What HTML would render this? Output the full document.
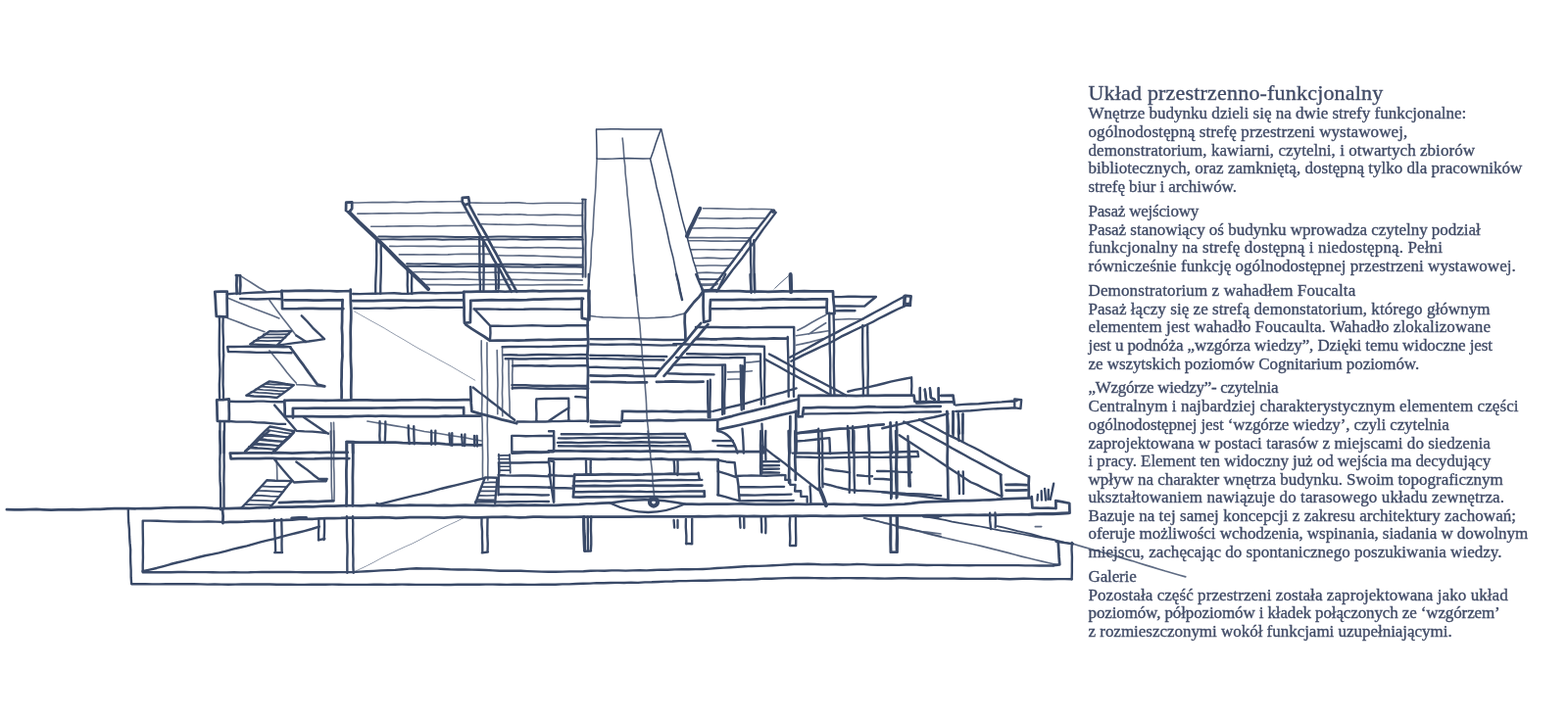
<!DOCTYPE html>
<html lang="pl">
<head>
<meta charset="utf-8">
<title>Układ przestrzenno-funkcjonalny</title>
<style>
html,body{margin:0;padding:0;background:#fff}
body{width:1600px;height:733px;position:relative;overflow:hidden;font-family:"Liberation Serif",serif;color:#404b66}
.l{position:absolute;left:1110.5px;white-space:nowrap;-webkit-text-stroke:0.35px;line-height:20px;height:20px;font-size:17.0px;margin:0}
.h{font-size:22.0px;line-height:26px;height:26px}
.tx{position:absolute;left:0;top:0;width:1600px;height:733px;will-change:transform}
svg{position:absolute;left:0;top:0}
svg g{fill:none;stroke:#3a4a68;stroke-linecap:round;stroke-linejoin:round}
.k{stroke-width:11}
.m{stroke-width:9.5}
.t{stroke-width:6.5;stroke-opacity:.82}
.f{stroke-width:4;stroke-opacity:.55}
.b{stroke-width:16}
.d{stroke-width:7}
.e{stroke-width:8}
.x{stroke-width:17}
</style>
</head>
<body>
<svg width="1600" height="733" viewBox="0 0 1600 733">
<g transform="translate(200,120) scale(.25)">
<g class="k">
<path d="M612.8,346.8 636.8,345.5 636.7,371.3 624.2,387.2 612.1,379.8 612.8,346.8"/>
<path d="M1087.1,327.2 1112.1,325.7 1116.1,349.0 1097.1,357.8 1087.0,345.2 1087.1,327.2"/>
<path d="M1090.5,351.3 1104.1,377.2 1118.2,402.9 1132.8,428.3 1146.3,454.3 1159.6,480.4 1174.7,505.5 1189.8,530.6 1203.3,556.7 1217.1,582.5 1232.2,607.6 1246.5,633.2 1259.6,659.4 1273.4,685.3 1287.6,710.9M1112.9,352.7 1126.9,378.3 1140.6,404.1 1154.5,429.7 1169.7,454.6 1184.3,479.9 1197.4,506.1 1211.0,531.9 1225.6,557.2 1239.2,583.0 1252.0,609.3 1266.2,634.8 1281.2,659.8 1295.3,685.4 1309.2,711.0"/>
<path d="M166.5,648.8 165.4,684.1 166.7,719.4M180.0,651.1 181.4,685.2 178.9,719.2M163.6,644.9 180.5,645.0"/>
</g>
<g class="e">
<path d="M1578.2,336.0 1578.0,364.6 1577.2,393.2 1577.8,421.8 1578.3,450.4 1577.7,479.0 1578.5,507.6 1579.7,536.2 1579.0,564.8 1578.9,593.4 1579.3,622.0 1578.7,650.7M1589.6,338.3 1589.2,366.7 1589.6,395.1 1589.0,423.6 1588.7,452.0 1590.1,480.5 1590.5,508.9 1589.7,537.3 1590.2,565.8 1590.8,594.2 1589.9,622.6 1589.8,651.1M1576.1,334.4 1591.2,334.5"/>
<path d="M745.1,486.0 773.8,486.3 802.4,486.6 831.1,486.8 859.8,486.5 888.5,485.9 917.2,485.8 945.8,485.9 974.5,485.8 1003.2,485.8 1031.9,486.7 1060.6,487.6 1089.2,487.7 1117.9,487.5 1146.6,487.5 1175.3,487.5 1204.0,486.7 1232.7,486.0 1261.3,486.1 1290.0,486.7 1318.7,486.9 1347.4,487.1 1376.0,487.8 1404.7,488.4 1433.4,488.3 1462.1,487.8 1490.8,487.7 1519.4,487.7 1548.1,487.5 1576.8,487.8M747.8,497.7 776.4,497.5 805.1,497.1 833.8,498.0 862.4,497.9 891.1,497.9 919.8,498.4 948.4,496.8 977.1,496.9 1005.8,498.6 1034.4,497.9 1063.1,498.0 1091.8,498.1 1120.4,496.3 1149.1,497.5 1177.8,498.9 1206.4,497.7 1235.1,498.0 1263.8,497.6 1292.4,496.5 1321.1,498.3 1349.8,498.8 1378.4,497.5 1407.1,497.9 1435.8,497.4 1464.4,497.1 1493.1,498.5 1521.8,498.1 1550.4,497.6 1579.1,497.8"/>
<path d="M860.4,597.0 889.1,597.5 917.8,597.5 946.5,596.8 975.2,597.0 1003.8,598.6 1032.5,599.2 1061.2,598.7 1089.9,598.4 1118.5,597.8 1147.2,597.8 1175.9,599.7 1204.6,600.9 1233.3,599.8 1261.9,599.1 1290.6,599.1 1319.3,599.3 1348.0,600.7 1376.6,601.9 1405.3,601.0 1434.0,600.0 1462.7,600.5 1491.4,601.0 1520.0,601.6 1548.7,602.1 1577.4,601.8M861.3,607.1 890.0,607.0 918.7,607.0 947.4,607.8 976.1,608.4 1004.8,608.2 1033.5,608.2 1062.2,608.9 1090.9,608.6 1119.6,607.6 1148.4,607.7 1177.1,608.4 1205.8,608.1 1234.5,607.9 1263.2,609.1 1291.9,610.1 1320.6,609.8 1349.3,609.7 1378.0,610.5 1406.7,610.5 1435.4,609.6 1464.1,609.5 1492.8,610.1 1521.5,610.0 1550.2,610.0 1578.9,610.6"/>
</g>
<g class="b">
<path d="M625.8,387.7 645.7,407.5 665.5,427.3 685.8,446.7 706.5,465.7 726.9,484.9 747.2,504.3 767.5,523.6 787.4,543.4 806.8,563.7 826.4,583.8 846.7,603.2 867.2,622.4 887.5,641.7 908.0,660.9 928.3,680.3 948.0,700.2"/>
</g>
<g class="m">
<path d="M737.4,496.8 736.6,528.6 737.1,560.4 736.6,592.2 735.5,624.0 733.7,655.8 732.8,687.6 732.9,719.4M755.4,510.3 754.7,540.1 755.5,569.9 755.2,599.7 755.1,629.5 754.2,659.3 753.0,689.1 753.0,718.9"/>
<path d="M862.5,615.8 863.6,650.4 862.9,685.0 865.0,719.5M881.8,633.8 880.6,662.6 880.2,691.3 881.1,720.0"/>
<path d="M1156.3,492.2 1157.4,522.7 1157.0,553.3 1157.9,583.9 1157.8,614.4 1157.7,645.0 1159.6,675.6 1159.7,706.1M1172.8,500.1 1172.7,529.2 1173.9,558.4 1173.4,587.5 1174.8,616.7 1174.0,645.8 1173.9,675.0 1173.7,704.2"/>
<path d="M1222.4,605.9 1222.5,637.5 1224.4,669.1 1224.6,700.8M1235.1,605.2 1234.7,636.5 1236.2,667.8 1234.9,699.1"/>
</g>
<g class="t">
<path d="M635.0,348.0 663.3,348.2 691.5,347.1 719.8,346.0 748.0,346.4 776.3,346.5 804.5,345.7 832.7,346.0 861.0,346.3 889.2,344.5 917.5,343.1 945.7,343.8 974.0,344.2 1002.2,343.4 1030.5,343.2 1058.7,343.1 1086.9,342.3M1116.2,348.0 1145.1,348.4 1174.0,348.9 1202.9,349.0 1231.9,349.1 1260.8,348.5 1289.7,347.2 1318.7,347.5 1347.6,349.9 1376.5,351.1 1405.4,350.1 1434.3,349.1 1463.3,349.0 1492.2,349.0 1521.1,349.2 1550.0,350.2 1579.0,350.1"/>
<path d="M659.3,392.7 688.7,392.5 718.1,391.9 747.5,391.5 777.0,391.3 806.4,390.8 835.8,390.7 865.2,391.1 894.7,391.2 924.1,390.3 953.5,389.0 982.9,388.6 1012.4,388.9 1041.8,389.0 1071.2,388.6 1100.6,388.1M1150.5,395.4 1179.0,396.1 1207.5,396.2 1236.0,397.3 1264.5,395.1 1293.0,395.9 1321.5,394.9 1350.0,397.6 1378.6,397.8 1407.1,398.5 1435.6,397.3 1464.1,396.4 1492.6,397.1 1521.1,397.5 1549.6,399.0 1578.1,398.4"/>
<path d="M714.7,444.8 744.4,444.9 774.1,444.7 803.8,443.8 833.5,443.3 863.2,443.5 892.9,443.2 922.6,443.2 952.3,443.9 982.0,443.6 1011.7,442.5 1041.4,442.2 1071.0,442.1 1100.7,441.7 1130.4,441.8M1166.1,434.7 1195.5,436.0 1225.0,436.7 1254.4,436.8 1283.8,437.4 1313.3,437.8 1342.7,436.9 1372.2,436.6 1401.6,438.3 1431.0,439.7 1460.4,440.1 1489.9,441.1 1519.3,442.4 1548.7,442.5 1578.2,442.3"/>
<path d="M791.0,525.5 820.8,525.8 850.7,525.1 880.6,525.0 910.4,525.4 940.3,525.0 970.2,525.4 1000.1,526.4 1029.9,525.7 1059.8,524.8 1089.7,525.2 1119.5,525.2 1149.4,525.0 1179.3,525.3M1215.7,529.4 1245.9,530.2 1276.1,531.3 1306.3,530.5 1336.5,531.4 1366.7,531.3 1396.9,530.1 1427.1,531.6 1457.3,531.3 1487.5,531.7 1517.7,533.5 1547.9,533.4 1578.1,533.8"/>
<path d="M829.5,559.5 858.0,558.8 886.4,559.3 914.9,559.8 943.3,559.6 971.8,559.6 1000.2,560.0 1028.6,559.5 1057.1,558.0 1085.5,557.4 1114.0,557.6 1142.4,557.4 1170.9,557.2 1199.3,557.7M1236.2,563.0 1264.7,563.9 1293.2,563.8 1321.7,563.6 1350.2,564.7 1378.7,564.0 1407.1,565.9 1435.6,566.6 1464.1,567.5 1492.6,569.6 1521.1,569.5 1549.6,570.7 1578.1,570.4"/>
<path d="M890.6,630.8 919.6,630.6 948.7,631.2 977.8,631.4 1006.8,632.4 1035.9,631.9 1065.0,630.5 1094.1,631.2 1123.1,632.1 1152.2,632.3 1181.3,633.0 1210.4,632.6 1239.4,632.6M1264.4,632.3 1292.9,632.9 1321.5,633.2 1350.1,633.8 1378.6,634.6 1407.2,635.0 1435.8,635.5 1464.3,636.5 1492.9,637.7 1521.5,638.4 1550.0,638.7 1578.6,639.2"/>
<path d="M920.3,659.6 948.8,660.3 977.4,660.5 1005.9,659.9 1034.5,660.1 1063.0,660.0 1091.6,659.6 1120.1,660.9 1148.7,662.0 1177.2,662.0 1205.8,662.8 1234.3,662.8 1262.9,661.3 1291.4,661.4 1320.0,661.9 1348.5,661.7 1377.1,663.0 1405.6,664.2 1434.2,663.9 1462.7,664.1 1491.2,664.2 1519.8,663.5 1548.4,663.7 1576.9,664.4M939.7,682.5 968.7,682.0 997.7,682.5 1026.8,682.7 1055.8,683.6 1084.8,683.4 1113.8,683.4 1142.8,682.5 1171.9,681.9 1200.9,681.4 1229.9,681.5 1258.9,682.2 1288.0,682.9 1317.0,683.9 1346.0,683.9 1375.0,683.9 1404.0,682.9 1433.1,682.6 1462.1,681.8 1491.1,682.3 1520.1,682.3 1549.1,683.0 1578.2,683.0"/>
<path d="M179.1,644.3 205.2,661.4 231.5,678.1 257.8,694.8 285.0,710.0"/>
</g>
</g>
<g transform="translate(560,120) scale(.25)">
<g class="d" style="stroke-width:6">
<path d="M193.9,47.5 223.3,47.5 252.7,47.1 282.1,46.9 311.5,47.7 340.9,48.2 370.3,47.7 399.7,47.8 429.1,48.0 458.4,47.6 446.7,77.1 436.1,107.0 426.6,137.3 415.7,167.1 384.3,168.1 352.9,167.1 321.5,166.3 290.1,167.4 258.7,168.5 227.3,168.7 196.0,168.4 195.9,138.2 195.4,107.9 194.6,77.7 193.9,47.5"/>
<path d="M459.0,48.0 465.4,76.6 472.0,105.2 478.8,133.7 485.5,162.3 492.6,190.8 499.9,219.2 506.2,247.8 512.3,276.5 518.9,305.1 525.4,333.7 531.8,362.3 538.9,390.8 545.7,419.4 553.5,446.9 561.3,474.4 568.1,502.2 575.0,530.0 582.9,557.5 589.8,585.2 599.0,612.4 606.4,640.0 614.8,667.3 622.2,695.0 629.1,722.7"/>
<path d="M413.9,168.7 420.8,196.9 427.2,225.1 434.0,253.3 439.3,281.9 446.4,310.0 453.4,338.1 460.2,366.3 467.2,394.4 472.8,422.9 479.7,451.0 486.0,481.1 492.2,511.3 499.5,541.2 507.4,570.9 513.4,601.1 519.4,631.3 525.3,661.5 533.0,691.3 539.6,721.3"/>
</g>
<g class="m">
<path d="M822.4,497.1 823.2,528.4 824.2,559.7 824.2,591.0 825.8,622.2 825.3,653.5 825.3,684.8 826.2,716.0M837.0,501.0 838.3,531.5 838.1,561.9 837.6,592.4 838.0,622.9 838.4,653.3 839.0,683.8 840.3,714.2"/>
<path d="M909.1,380.5 891.6,403.9 873.5,426.8 855.4,449.7 837.6,472.8 819.7,495.8 801.6,518.7 784.1,542.0 767.0,565.7 749.5,589.0 731.5,611.9 713.6,635.0 695.7,658.1 677.7,681.0 659.9,704.1M926.8,387.5 909.4,410.4 892.2,433.5 874.8,456.4 858.4,480.1 841.9,503.7 824.2,526.4 806.8,549.3 790.0,572.7 772.2,595.3 753.9,617.6 736.8,640.8 719.9,664.1 702.4,687.0 685.7,710.4"/>
</g>
<g class="t">
<path d="M196.5,167.5 195.0,195.8 193.6,224.1 192.4,252.4 191.5,280.8 189.7,309.1 187.2,337.3 185.2,365.6 183.6,393.9 181.9,422.2 181.0,450.5 178.8,480.4 174.9,510.2 173.2,540.2 172.9,570.3 171.2,600.2 168.0,630.1 165.3,659.9 163.3,689.9"/>
<path d="M300.7,84.3 303.9,113.0 305.8,141.8 307.9,170.5 311.5,199.2 312.5,228.1 315.8,256.7 319.0,285.4 320.4,314.2 324.3,342.8 326.7,371.6 329.1,400.3 332.5,430.2 335.5,460.0 337.6,490.0 339.9,519.9 341.7,549.8 343.9,579.8 347.0,609.6 349.8,639.5 353.4,669.3 356.5,699.1 358.8,729.0"/>
<path d="M630.4,371.0 658.5,370.9 686.7,371.6 714.8,372.2 743.0,373.0 771.1,374.1 799.2,374.1 827.4,373.6 855.6,373.9 883.7,374.2 911.9,375.0"/>
<path d="M612.1,410.8 641.8,411.0 671.6,411.8 701.3,412.4 731.0,411.6 760.8,411.9 790.5,411.6 820.3,410.5 850.0,410.8 879.8,411.1M586.1,451.9 616.1,451.6 646.0,451.2 676.0,450.8 706.0,451.9 735.9,452.5 765.9,452.8 795.8,452.2 825.8,451.3 855.8,451.7M568.1,490.4 596.9,490.6 625.7,490.7 654.6,490.8 683.4,490.7 712.2,490.3 741.0,490.5 769.8,491.2 798.6,491.7 827.4,491.4M568.8,503.2 599.6,503.1 630.3,503.0 661.1,504.4 691.8,504.5 722.6,505.0 753.3,504.7 784.1,504.1 814.8,504.6M581.0,539.7 610.7,539.1 640.4,539.0 670.1,539.7 699.8,539.8 729.4,539.7 759.1,540.7 788.8,540.6M589.1,573.9 617.8,573.8 646.5,572.6 675.2,573.3 703.8,575.7 732.5,574.8 761.2,574.2M597.8,605.1 626.1,605.1 654.4,603.9 682.8,603.8 711.1,605.0 739.4,604.6M607.4,634.6 644.5,632.6 681.6,634.3 718.7,634.6M615.0,660.9 643.3,661.5 671.6,660.9 699.9,661.1M621.6,685.8 652.3,684.9 683.1,684.0"/>
</g>
<g class="f">
<path d="M983.4,642.4 961.5,661.1 939.8,680.1 919.1,700.2"/>
</g>
<g class="b">
<path d="M617.3,370.9 603.3,399.1 590.1,427.6 576.0,455.7 563.6,484.6"/>
<path d="M986.2,641.4 987.6,677.0 988.8,712.6"/>
<path d="M918.0,381.1 915.3,383.6"/>
</g>
</g>
<g transform="translate(200,280) scale(.25)">
<g class="k">
<path d="M77.0,71.1 102.1,70.8 127.1,70.5 126.5,105.3 127.2,140.1 127.6,174.8 83.1,171.6 80.9,138.1 79.4,104.6 77.0,71.1"/>
<path d="M349.4,68.0 377.6,68.7 405.7,67.5 433.8,67.7 462.0,66.9 490.1,67.1 518.2,67.9 546.4,68.0 574.5,69.5 602.6,69.0 630.7,68.9M349.4,67.0 351.7,103.8 352.2,140.6 383.3,141.0 414.5,140.8 445.6,139.9 476.7,139.8 507.8,140.4 538.9,140.5 570.1,140.4 601.2,140.5M362.2,105.1 391.6,105.3 421.0,105.1 450.4,105.6 479.7,106.4 509.1,106.1 538.5,105.4 567.9,105.3 597.3,105.5"/>
<path d="M598.0,104.9 597.3,133.6 596.5,162.2 596.6,190.9 595.3,219.5 597.2,248.2 597.4,276.8 596.8,305.4 597.8,334.1 595.3,362.7 594.6,391.4 594.4,420.0 593.3,448.6 594.5,477.3 594.2,506.0M631.0,62.6 630.9,92.1 631.7,121.6 633.0,151.1 632.9,180.7 631.3,210.2 630.7,239.8 631.4,269.3 631.6,298.8 631.2,328.4 632.0,357.9 633.8,387.4 634.3,416.9 633.4,446.5 632.8,476.0 633.2,505.6"/>
<path d="M640.1,108.3 668.1,108.4 696.2,108.4 724.2,108.1 752.3,107.2 780.3,106.9 808.4,106.8 836.4,106.7 864.5,107.4 892.5,107.5 920.6,107.2 948.6,107.0 976.6,106.0 1004.7,105.6 1032.7,105.6 1060.8,105.5 1088.8,105.6"/>
<path d="M1092.9,71.3 1121.1,71.4 1149.3,70.3 1177.5,70.5 1205.7,70.3 1233.9,69.9 1262.1,71.0 1290.3,69.6 1318.5,69.5 1346.7,69.2 1374.9,67.9 1403.1,69.3 1431.3,68.7 1459.5,68.6 1487.7,68.8 1515.9,67.2 1544.1,67.6 1572.3,67.3 1600.5,67.2M1092.9,71.0 1093.3,103.0 1094.3,135.0 1094.3,167.0 1095.7,199.0 1119.7,196.2 1119.9,166.5 1121.0,136.8 1120.9,107.1 1149.6,106.3 1178.3,105.6 1207.0,104.9 1235.7,105.7 1264.4,105.5 1293.1,104.8 1321.9,105.4 1350.6,104.5 1379.2,102.7 1407.9,102.6 1436.6,101.6 1465.3,100.2 1494.0,100.6 1522.8,100.5 1551.5,99.9 1580.2,99.8"/>
<path d="M1100.9,205.5 1125.4,222.5 1150.6,238.3 1175.9,254.0 1200.4,271.0 1228.9,270.9 1257.4,270.3 1286.0,270.0 1314.5,270.2 1343.0,269.7 1371.5,268.4 1400.0,267.8 1428.5,268.0 1457.0,267.5 1485.5,266.6 1514.0,266.6 1542.6,266.9 1571.1,266.5 1599.6,265.9"/>
<path d="M361.0,515.2 389.0,514.7 417.1,514.6 445.2,514.8 473.3,514.8 501.4,515.0 529.4,515.5 557.5,515.0 585.6,514.3 613.7,514.2 641.7,513.6 669.8,513.2 697.9,513.8 726.0,514.3 754.0,514.3 782.1,514.6 810.2,514.5 838.3,513.6 866.3,513.1 894.4,513.0 922.5,512.7 950.6,512.8 978.6,513.5 1006.7,513.6 1034.8,513.3 1062.9,513.3 1091.0,512.9 1119.0,512.8M361.0,514.6 362.5,547.7 362.5,580.8 391.0,580.4 419.4,580.4 447.9,580.8 476.4,580.9 504.9,581.7 533.4,581.1 561.9,581.9 590.3,580.4 618.8,581.2 647.3,579.1 675.8,579.9 704.3,578.0 732.8,579.1 761.3,578.0 789.7,579.4 818.2,579.1 846.7,580.2 875.2,580.4 903.7,580.6 932.2,580.8 960.7,580.1 989.1,580.2 1017.6,578.9 1046.1,579.2 1074.6,578.1 1103.1,578.7 1131.6,578.2 1160.1,578.8M395.9,586.2 395.5,547.3 424.6,547.0 453.6,547.0 482.7,546.5 511.7,546.0 540.7,546.3 569.8,546.1 598.8,546.0 627.9,546.8 656.9,546.7 686.0,546.3 715.0,546.7 744.0,546.0 773.1,545.1 802.1,545.2 831.2,544.6 860.2,544.1 889.3,544.7 918.3,544.7 947.3,544.5 976.4,545.1 1005.4,544.9 1034.5,544.5 1063.5,544.4 1092.6,544.0 1092.9,571.0"/>
<path d="M1120.6,460.8 1121.9,493.7 1123.0,526.6 1125.8,559.5 1156.1,568.6 1186.8,576.3 1217.3,584.5 1247.7,593.4 1278.4,600.7 1308.9,609.0"/>
<path d="M84.7,513.0 109.9,512.8 134.9,509.4 134.6,539.9 135.5,570.3 134.9,600.8 87.3,599.1 86.3,570.4 85.9,541.7 84.7,513.0"/>
<path d="M384.1,297.7 403.1,322.9 421.4,348.6 440.5,373.7 458.5,399.6 477.1,425.0 495.5,450.7 525.3,457.4"/>
<path d="M614.5,684.6 643.1,685.4 671.6,686.7 700.2,686.7 728.8,686.5 757.4,686.7 785.9,686.2 814.5,686.5 843.1,688.3 871.6,689.4 900.2,689.2 929.6,690.1 958.9,690.2 988.2,690.9 1017.5,693.4 1046.8,695.1 1076.2,695.4 1105.5,696.2 1134.8,697.3 1164.2,697.8M615.4,685.9 615.0,729.2M639.5,689.3 640.8,730.6"/>
</g>
<g class="m">
<path d="M1289.5,452.5 1317.7,453.1 1345.8,453.0 1373.9,455.0 1402.1,454.6 1430.2,455.8 1458.4,455.5 1486.5,455.1 1514.7,455.5 1542.8,454.4 1571.0,455.4 1599.1,455.9M1290.7,465.1 1318.9,464.6 1347.1,464.3 1375.3,465.4 1403.5,466.8 1431.7,467.2 1459.9,466.9 1488.1,466.9 1516.3,466.8 1544.5,466.3 1572.7,466.1 1600.9,467.1"/>
<path d="M129.0,295.8 157.5,295.9 186.0,295.3 214.5,295.2 243.0,295.9 271.5,296.6 300.0,296.5 328.5,296.5 357.0,296.8 385.5,296.5M132.8,316.4 161.4,316.7 190.0,317.3 218.6,318.2 247.1,319.3 275.7,319.5 304.4,318.7 332.9,319.0 361.5,320.6 390.1,321.0M128.8,296.8 131.8,315.8"/>
<path d="M126.9,80.8 158.6,78.7 190.3,77.4 222.0,75.3 253.7,74.1 285.5,73.3 317.2,71.6 348.9,70.3M180.3,100.1 213.3,100.7 246.3,102.2 279.3,100.8 312.4,99.7 345.4,101.0"/>
<path d="M640.7,80.0 668.8,80.3 697.0,79.6 725.1,79.0 753.3,78.7 781.4,77.6 809.5,77.2 837.7,79.0 865.9,79.6 894.0,77.1 922.1,75.2 950.3,76.1 978.4,77.0 1006.6,76.4 1034.7,76.1 1062.9,75.8 1091.0,75.2M645.1,139.0 674.8,139.3 704.4,139.5 734.0,138.7 763.6,138.6 793.2,139.0 822.9,137.5 852.5,136.0 882.1,136.4 911.7,136.2 941.3,134.9 970.9,135.1 1000.6,136.2 1030.2,135.9 1059.8,135.5 1089.4,135.3"/>
<path d="M1134.5,142.2 1163.6,141.8 1192.6,141.9 1221.7,142.7 1250.8,143.4 1279.8,143.2 1308.9,143.3 1338.0,143.2 1367.0,142.2 1396.1,141.6 1425.2,142.0 1454.3,142.3 1483.3,142.5 1512.4,143.3 1541.5,143.6 1570.5,143.1M1135.1,140.9 1157.2,164.2 1179.2,187.5 1201.2,210.9 1229.7,211.2 1258.2,211.3 1286.7,211.6 1315.1,210.3 1343.6,209.3 1372.1,208.8 1400.6,209.3 1429.1,210.8 1457.6,210.9 1486.1,210.9 1514.6,209.2 1543.1,208.9 1571.6,208.5 1600.1,209.2M1200.8,211.2 1201.9,239.8 1199.9,268.4"/>
<path d="M1250.2,296.9 1279.3,295.9 1308.3,295.8 1337.4,295.4 1366.4,295.6 1395.5,295.9 1424.5,295.3 1453.6,295.2 1482.6,294.0 1511.7,293.2 1540.7,292.6 1569.8,292.0 1598.8,292.2M1255.4,329.4 1284.0,329.1 1312.7,330.1 1341.3,330.3 1370.0,329.0 1398.6,327.8 1427.2,328.1 1455.9,329.0 1484.5,329.6 1513.2,329.3 1541.8,328.5 1570.5,327.9 1599.1,328.4M1262.7,344.8 1290.9,344.9 1319.1,346.0 1347.3,345.9 1375.5,344.6 1403.7,345.0 1431.9,345.2 1460.1,343.4 1488.3,342.6 1516.5,343.6 1544.7,343.3 1572.9,342.9 1601.1,343.7M1292.0,373.8 1322.7,373.2 1353.5,372.6 1384.3,374.1 1415.0,373.0 1445.8,374.9 1476.5,373.9 1507.3,374.0 1538.0,373.8 1568.8,372.5 1599.6,372.8"/>
<path d="M1390.9,509.5 1423.4,508.1 1456.0,507.3 1488.6,506.7 1521.1,506.9M1389.3,509.7 1388.5,539.7 1389.9,569.7 1389.2,599.7M1521.1,509.2 1521.6,539.1 1520.5,569.1 1521.7,599.0M1310.1,601.8 1339.0,602.1 1368.0,602.7 1396.8,601.7 1425.7,602.1 1454.6,600.3 1483.5,600.6 1512.4,598.9 1541.3,599.6 1570.2,598.9 1599.1,599.7"/>
<path d="M95.3,174.8 96.1,205.3 95.5,235.9 95.1,266.4 95.0,297.0 94.9,327.5 96.2,358.0 97.8,388.6 97.0,419.1 95.3,449.7 95.6,480.2 96.5,510.8M110.6,180.2 109.8,210.2 110.4,240.3 112.0,270.3 111.5,300.4 113.1,330.4 111.0,360.5 110.5,390.6 110.6,420.6 110.1,450.7 112.0,480.7 111.7,510.8M98.1,599.4 97.8,632.1 97.8,664.8 99.4,697.4 99.9,730.1M116.1,604.8 116.0,635.9 114.2,667.0 113.7,698.2 114.2,729.3"/>
<path d="M134.4,518.9 162.7,519.8 191.1,519.4 219.4,520.0 247.8,518.5 276.1,518.4 304.5,520.7 332.8,520.8 361.1,521.0M135.6,599.9 164.2,602.3 192.9,602.7 221.6,602.7 250.1,605.3 278.8,605.8 307.3,608.5 335.9,611.3 364.5,611.7"/>
<path d="M431.0,169.3 454.4,193.0 476.3,218.1 500.5,241.1 524.1,264.6 491.9,269.6 459.7,273.9 427.4,277.4 395.2,281.7 363.0,286.3 330.8,290.8M409.3,250.1 449.4,276.1"/>
<path d="M220.9,285.5 247.4,267.9 274.4,251.2 300.2,232.6 329.8,233.3 359.4,232.5 389.0,231.7 359.8,261.0 330.9,290.7 294.2,289.2 257.5,287.6 220.9,285.5"/>
<path d="M205.2,494.9 236.8,476.0 267.5,455.7 299.5,437.5 332.8,442.0 365.8,448.1 399.2,452.3 376.9,470.6 353.7,487.5 330.0,504.0 298.9,500.6 267.6,498.9 236.3,497.9 205.2,494.9"/>
<path d="M320.5,534.5 343.1,560.4 365.4,586.8 387.8,612.9 409.9,639.4 442.4,641.6 475.1,642.7 507.6,645.7 540.1,649.3M439.9,584.0 464.7,601.0 489.6,617.7 514.4,634.6 539.5,651.1"/>
<path d="M200.7,722.2 221.2,702.7 240.7,682.0 260.4,661.7 280.7,641.9 300.9,622.0 334.3,627.6 367.6,634.3 400.9,641.0 378.4,663.8 355.1,685.8 332.5,708.7 309.0,730.4"/>
<path d="M750.0,600.9 750.4,630.1 749.3,659.4 751.2,688.7M773.2,602.0 773.4,630.9 772.2,659.8 771.1,688.6M866.9,617.3 867.5,655.1 870.9,692.7M889.0,620.5 889.6,656.7 890.8,692.9M960.8,639.2 961.1,667.3 960.9,695.4M977.4,639.1 976.7,666.9 977.1,694.7M1033.9,650.2 1037.5,697.2M1045.2,649.0 1044.9,698.8M1084.3,654.9 1088.0,699.4M1097.7,654.0 1096.5,700.7M1135.9,659.5 1136.8,701.6M1146.3,659.6 1147.8,702.2"/>
<path d="M1130.8,462.2 1154.8,481.5 1179.7,499.6 1203.7,518.9 1228.2,537.5 1252.2,556.9 1275.9,576.5 1300.4,595.1"/>
</g>
<g class="t">
<path d="M551.1,606.1 552.3,637.0 551.9,667.8 551.5,698.6 552.1,729.5M562.0,605.6 562.7,636.8 563.6,668.0 564.4,699.3 562.9,730.5"/>
<path d="M299.9,105.8 317.5,130.5 335.6,154.8 353.7,179.2 372.9,202.7 391.3,226.8 409.4,251.1"/>
<path d="M127.8,96.1 154.1,107.1 180.5,117.7 206.9,128.2 233.3,139.0 260.0,148.6 286.6,158.8 313.0,169.4 339.4,180.1M128.6,178.9 158.8,190.3 189.0,201.5 218.9,213.6 249.4,224.0 279.9,234.6"/>
<path d="M1164.8,270.8 1164.7,299.0 1164.7,327.1 1165.6,355.3 1166.6,383.5 1166.7,411.7 1166.4,439.9 1167.0,468.1 1167.7,496.3 1167.3,524.5 1166.5,552.7 1167.0,580.9 1168.5,609.0 1169.1,637.2 1168.9,665.4 1169.1,693.6 1170.0,721.8 1170.2,750.0 1169.8,778.2 1169.8,806.4 1170.6,834.6M1187.8,279.3 1187.8,307.3 1187.9,335.4 1187.7,363.4 1188.7,391.5 1189.4,419.5 1189.1,447.6 1189.9,475.6 1190.2,503.7 1189.1,531.7 1189.2,559.8 1189.6,587.8 1188.8,615.9 1189.4,643.9 1190.6,672.0 1190.5,700.0 1191.0,728.1 1191.8,756.1 1191.3,784.2 1191.2,812.2 1191.4,840.3M1228.7,310.7 1229.5,339.6 1230.0,368.4 1230.1,397.3 1231.3,426.1 1231.8,455.0 1230.7,483.9 1230.5,512.7 1231.0,541.6 1231.0,570.5M1250.2,300.4 1250.5,331.4 1251.7,362.3 1250.4,393.3 1251.4,424.3 1250.8,455.3 1249.7,486.2 1251.0,517.2 1250.3,548.2 1251.2,579.2M1276.2,348.9 1276.6,377.7 1276.5,406.5 1277.1,435.2 1277.9,464.0 1278.5,492.8 1280.1,521.6 1280.3,550.3 1280.8,579.1M1292.2,344.6 1292.6,375.9 1291.0,407.1 1291.3,438.3 1291.0,469.5"/>
<path d="M299.8,311.8 318.1,333.7 336.4,355.7 353.7,378.4 371.2,401.1 389.8,422.7 408.9,444.1M410.4,450.4 438.9,451.4 467.3,454.7 495.8,457.4 524.3,458.6"/>
<path d="M699.5,600.2 728.7,604.9 757.9,609.3 787.0,614.5 816.1,619.5 845.3,624.0 874.3,629.6 903.1,636.2 932.1,641.9 961.4,645.9 990.6,650.0 1019.7,655.1 1048.9,659.8 1078.1,663.9 1107.3,668.8 1136.2,674.7 1165.3,679.9"/>
</g>
<g class="f">
<path d="M646.2,151.6 670.9,165.4 695.6,179.4 720.3,193.3 745.3,206.9 770.0,220.9 794.2,235.7 818.6,250.2 843.3,264.2 867.6,278.8 891.9,293.5 916.6,307.4 941.7,320.7 966.5,334.6 991.1,348.6 1016.2,362.0 1041.1,375.6 1065.6,390.0 1090.0,404.4 1114.6,418.5 1139.1,432.9"/>
</g>
<g class="d">
<path d="M236.1,272.1 264.3,271.9 292.6,272.3 320.8,271.5 349.0,271.9M254.0,258.4 282.0,258.3 310.0,258.8 338.0,257.9 366.0,258.2M274.8,245.9 309.5,245.6 344.2,245.3 379.0,244.9"/>
<path d="M224.9,480.9 254.7,483.9 284.7,484.9 314.6,487.4 344.6,488.9M244.0,469.4 274.4,472.0 304.9,473.5 335.3,476.5 365.8,478.2M265.0,458.4 294.0,460.2 322.9,462.9 351.8,464.5 380.8,464.9M284.3,447.7 321.1,450.5 358.1,450.7 394.9,454.1"/>
<path d="M215.8,703.9 252.2,708.6 288.9,711.3 325.5,714.6M235.8,690.6 271.0,692.9 306.1,696.5 341.1,700.6M254.2,669.9 289.4,675.4 324.7,679.1 360.1,682.6M274.7,653.1 307.9,655.7 340.9,660.9 373.9,665.6M289.0,635.3 322.5,641.0 356.0,646.6 389.7,651.2"/>
</g>
</g>
<g transform="translate(560,280) scale(.25)">
<g class="k">
<path d="M1006.8,649.7 1036.8,646.4 1066.9,644.4 1097.0,641.5 1126.9,637.5 1156.9,633.8 1186.8,630.5 1217.0,629.1 1247.1,626.5 1277.1,623.0 1307.0,619.2 1337.0,615.8 1367.1,613.5"/>
<path d="M165.6,67.2 165.1,96.7 165.9,126.3 165.9,155.9 165.3,185.4 135.3,179.2 134.6,139.3 134.9,99.4"/>
<path d="M630.7,69.2 660.1,68.7 689.5,68.4 718.9,69.0 748.3,68.6 777.7,68.8 807.1,70.4 836.5,70.2 865.9,70.0 895.3,71.2 924.7,70.4 954.1,69.4 983.5,70.0 1013.0,69.2 1042.4,68.4 1071.8,69.3 1101.2,69.4 1130.6,69.4 1160.0,69.9 1161.2,100.1 1164.4,130.3 1166.1,160.5 1135.0,159.8 1134.6,130.4 1135.5,101.1 1105.8,101.5 1076.1,101.9 1046.4,102.6 1016.6,101.6 986.9,102.1 957.2,101.9 927.5,102.1 897.8,103.9 868.0,103.4 838.3,104.3 808.6,103.8 778.9,103.2 749.2,104.1 719.4,104.0 689.7,104.9 660.0,104.9 658.2,132.9 658.4,160.9 658.0,188.9 632.8,195.5 631.2,164.0 630.3,132.4 630.5,100.8 630.7,69.2"/>
<path d="M631.2,68.5 613.1,92.3 592.4,114.0 573.8,137.5 555.4,161.0 554.7,197.7 557.2,234.2 558.0,270.8"/>
<path d="M621.1,199.4 602.3,220.8 584.2,242.7 566.4,265.0 547.3,286.1 528.1,307.2 510.2,329.3 491.3,350.6 471.6,371.2 453.2,392.9 435.0,414.8M649.9,204.5 629.9,228.0 610.4,251.8 589.2,274.2 569.9,298.2 548.9,320.8 530.2,345.4 509.6,368.3 490.6,392.5 469.9,415.4"/>
<path d="M159.0,186.2 158.2,215.8 159.3,245.4 160.7,275.1 159.1,304.7 157.0,334.4 158.2,364.0 160.2,393.6 159.8,423.3 158.9,452.9 158.6,482.6 158.2,512.2 158.6,541.9 159.6,571.5 158.9,601.1"/>
<path d="M169.5,413.9 199.0,414.4 228.5,415.2 258.0,414.6 287.6,413.2 317.1,413.9 346.6,415.7 376.1,416.1 405.7,415.3 435.2,415.5M174.0,439.9 202.3,439.1 230.6,439.5 258.8,440.0 287.1,440.1 315.4,441.4 343.6,442.0 371.9,441.7 400.2,441.4M439.6,439.0 471.4,438.9 503.1,437.7 534.9,438.7 566.7,439.1 598.5,439.4 630.3,438.9"/>
<path d="M600.7,264.5 629.5,263.9 658.3,265.0 687.1,265.0 715.9,263.7 744.8,263.3 773.6,261.8 802.4,263.8 831.2,264.0 860.0,263.8 888.8,263.1 917.6,261.5 946.4,262.3 975.2,262.3"/>
<path d="M1020.2,495.9 1049.5,495.4 1078.9,495.7 1108.3,494.7 1137.7,495.5 1167.0,494.7 1196.4,495.9 1225.8,495.3 1255.2,496.2 1284.6,495.6 1313.9,495.8 1343.3,495.1 1372.7,494.9 1402.1,494.5 1431.4,494.2 1460.8,494.4 1490.2,494.5 1493.9,518.8M1040.3,545.5 1069.7,545.2 1099.1,543.8 1128.5,543.8 1157.9,544.4 1187.3,544.2 1216.7,544.7 1246.1,544.5 1275.5,542.1 1304.9,540.8 1334.3,541.9 1363.7,542.3 1393.2,542.2 1422.6,542.7 1452.0,541.6 1481.4,539.5 1510.8,539.3 1540.2,540.1 1569.6,539.9 1599.0,539.4M1039.8,545.1 1035.4,580.9 1017.5,581.2 1019.7,539.3 1019.7,497.4"/>
<path d="M689.6,594.6 719.2,586.8 748.7,579.2 778.1,570.9 807.8,563.6 837.5,556.8 867.1,549.1 896.8,542.3 926.3,534.5 955.7,526.2 985.3,518.7 1014.9,511.1M689.1,635.6 718.3,628.7 747.6,622.5 776.8,615.9 806.0,608.9 835.3,602.3 864.5,595.5 893.5,588.0 922.6,580.4 951.8,573.6 981.0,567.1 1010.3,560.6M689.1,594.5 688.5,636.9"/>
<path d="M299.5,559.7 329.6,559.4 359.7,560.8 389.8,560.3 419.9,559.7 450.0,560.0 480.1,559.4 510.2,561.1 540.3,561.4 570.4,559.9 600.5,560.5 630.6,560.5 660.7,560.9M300.6,559.4 298.5,599.2M300.3,598.7 329.8,598.9 359.3,598.0 388.8,598.0 418.3,597.0 447.8,595.7 477.4,597.4 506.9,597.6 536.4,595.8 565.9,595.8 595.4,595.1 624.9,594.3 654.4,595.2 684.0,594.5M171.1,599.0 202.0,601.7 233.1,602.9 264.1,603.1 295.1,604.9"/>
<path d="M1009.0,559.2 1008.5,587.7 1009.0,616.2 1008.8,644.7 1010.0,673.1 1010.0,701.6 1009.3,730.1M985.4,580.1 985.4,609.9 985.1,639.6 984.0,669.4 984.0,699.1 984.9,728.9"/>
<path d="M987.6,-1.1 988.7,33.6 991.0,68.3"/>
</g>
<g class="m">
<path d="M899.7,325.8 926.1,339.5 952.2,353.8 978.2,368.2 1004.1,383.1 1029.9,397.9 1056.2,411.9 1082.7,425.5 1109.1,439.2 1135.5,453.0 1162.0,466.6 1188.1,480.8 1213.9,495.6M879.9,345.4 906.4,359.8 933.2,373.8 959.5,388.7 985.6,404.0 1012.5,417.7 1038.8,432.6 1065.4,446.9 1092.4,460.4 1118.7,475.3 1145.2,489.9"/>
<path d="M670.0,559.7 702.3,551.2 734.9,543.5 767.4,536.0 800.0,528.6 833.4,518.9 866.4,508.1 899.5,497.8 927.3,489.8 955.2,482.4 982.8,473.9 1010.4,465.5"/>
<path d="M648.5,436.0 648.8,465.6 648.9,495.1 649.1,524.7 650.5,554.3 650.9,583.9M709.0,374.2 709.3,402.5 709.3,430.7 709.2,458.9 708.7,487.1 708.2,515.4 708.5,543.6 708.9,571.8M782.5,371.5 783.8,401.9 783.7,432.3 784.3,462.7 784.4,493.1 785.5,523.5 787.0,553.9"/>
<path d="M171.0,605.3 200.9,604.7 230.8,603.9 260.7,603.3 290.6,604.3M171.2,620.8 200.9,621.1 230.6,619.8 260.3,619.4 290.0,619.0"/>
<path d="M0.0,599.3 26.7,581.0 53.7,563.3 80.9,545.9M108.9,500.1 134.6,501.5 160.1,504.3"/>
<path d="M664.6,141.0 693.6,141.0 722.7,140.9 751.8,140.6 780.8,140.9 809.9,139.9 838.9,139.3 868.0,138.8 897.0,137.2 926.1,137.0 955.1,136.4 984.2,135.6 1013.2,136.2 1042.3,135.8 1071.3,135.9 1100.4,136.0 1129.4,135.2"/>
<path d="M163.1,0.2 163.2,31.1 161.8,62.1 161.3,93.0 162.1,124.0 161.5,154.9 160.9,185.9M520.2,-0.8 529.1,34.1 535.5,69.6 544.3,104.6"/>
<path d="M600.8,0.5 614.4,33.5 630.0,65.6 660.3,64.0 690.7,64.3 705.4,31.8 721.0,-0.4"/>
<path d="M821.9,0.9 823.6,35.2 826.6,69.4M839.6,-0.3 840.7,35.1 841.1,70.5"/>
<path d="M1165.0,92.3 1193.4,92.3 1221.8,90.9 1250.2,91.1 1278.7,92.1 1307.1,91.9 1335.5,91.9 1312.3,110.9 1289.2,130.1 1258.4,130.7 1227.6,129.9 1196.7,129.9 1165.9,129.5M1166.1,149.3 1208.1,147.8 1250.0,149.0"/>
<path d="M1454.8,89.0 1429.9,101.8 1405.1,115.0 1380.6,128.7 1356.0,142.2 1331.2,155.2 1306.5,168.5 1282.0,182.1 1257.1,195.1 1231.9,207.4 1207.0,220.2 1182.3,233.5 1157.4,246.4 1132.4,259.2 1107.8,272.6 1083.4,286.5 1058.7,299.8 1033.9,312.9 1009.2,326.2 984.4,339.1M1474.4,119.0 1448.9,131.6 1422.9,143.0 1397.5,155.7 1372.1,168.4 1346.6,180.9 1321.8,194.8 1296.2,207.2 1269.8,217.8 1244.2,230.2 1218.7,242.6 1193.0,254.7 1168.3,268.8 1143.1,282.1 1117.0,293.2 1091.3,305.3 1065.7,317.6 1039.8,329.4 1014.7,342.6 989.2,355.2M1455.6,87.2 1478.7,89.2 1473.9,120.0 1453.4,118.3 1455.6,87.2"/>
<path d="M1145.0,159.2 1145.1,189.8 1145.6,220.3 1146.3,250.8 1146.6,281.3 1147.2,311.8 1148.5,342.3 1148.9,372.9 1148.6,403.4 1149.0,433.9 1149.7,464.4 1150.2,494.9M1162.2,164.6 1163.3,194.7 1164.1,224.8 1163.9,254.9 1163.9,285.0 1164.2,315.1 1163.5,345.2 1163.1,375.3 1163.8,405.4 1164.3,435.5 1164.7,465.6 1165.9,495.7M1281.0,209.1 1280.9,237.8 1280.5,266.5 1280.7,295.2 1281.1,323.9 1281.1,352.6 1281.5,381.3 1282.6,410.0 1283.5,438.6 1283.7,467.3 1283.5,496.0M1301.1,211.3 1300.9,239.6 1301.5,267.9 1301.8,296.2 1302.0,324.5 1302.5,352.8 1303.1,381.1 1302.8,409.5 1302.2,437.8 1302.1,466.1 1302.3,494.4"/>
<path d="M169.1,264.3 198.8,265.0 228.4,265.2 258.0,264.9 287.7,264.3 317.3,264.3 347.0,265.0 376.6,265.7 406.3,266.3 435.9,267.2 465.5,267.9 495.2,267.9 524.8,267.5 554.5,267.6M169.4,285.9 198.6,286.7 227.8,287.7 257.1,287.2 286.3,286.4 315.5,286.7 344.7,285.9 373.9,287.8 403.1,288.7 432.4,289.4 461.6,290.4 490.8,289.6 520.0,289.7M168.9,330.9 197.2,331.4 225.6,331.8 254.0,331.4 282.4,331.6 310.7,333.0 339.1,333.3 367.4,335.2 395.8,335.1 424.2,335.3 452.6,335.4 481.0,335.8M170.0,344.3 200.0,344.6 230.0,344.5 260.0,345.6 290.0,346.6 320.0,346.5 350.0,347.2 380.0,348.9 410.0,349.6 440.1,349.5 470.1,350.0M165.5,379.4 194.1,379.1 222.6,380.6 251.1,381.5 279.6,381.4 308.2,383.0 336.7,382.2 365.3,382.0 393.8,383.5 422.3,383.5 450.8,384.5"/>
<path d="M599.7,216.0 628.4,215.9 657.1,215.8 685.7,216.0 714.4,217.1 743.0,216.7 771.7,217.1 800.3,217.5 829.0,216.4 857.6,216.6 886.3,216.1 914.9,215.3 943.6,215.8 972.2,215.6 1000.9,216.2 1000.8,244.5 1001.7,272.9 1001.8,301.2 1000.7,329.6 1000.3,357.9 1000.8,386.3 1000.5,414.6 999.4,443.0 999.4,471.4 1000.1,499.7M975.0,256.1 975.4,286.5 976.5,317.0 977.2,347.4 978.1,377.8 978.6,408.2 978.4,438.7 978.4,469.1 979.0,499.6M509.0,284.4 537.5,285.2 566.1,285.9 594.6,287.4 623.1,288.0 651.6,288.4 680.1,289.3 708.7,289.2 737.2,290.5 765.7,291.4 794.3,292.4 822.8,293.8 851.3,294.1 879.8,294.8 880.3,324.3 880.8,353.7 881.4,383.2 880.8,412.6 880.0,442.1 880.3,471.6 880.7,501.0 881.2,530.5M564.0,325.2 594.0,325.1 624.1,325.9 654.1,326.5 684.2,326.7 714.2,327.1 744.3,327.0 774.3,326.1 804.4,325.8 834.4,325.7 864.4,326.1 864.2,355.4 864.2,384.6 864.5,413.9 866.1,443.1 867.8,472.4 867.5,501.7 867.0,530.9M520.4,339.4 551.5,340.3 582.5,339.7 613.5,339.3 644.6,338.7 675.6,339.3 706.6,341.4 737.6,341.2 768.7,339.4 799.7,340.3 799.7,370.2 798.2,400.2 797.7,430.1 796.8,460.1 795.5,490.0 795.8,520.0 795.6,550.0M510.2,370.3 540.2,370.0 570.2,369.2 600.1,369.6 630.1,370.7 660.1,370.7 690.0,370.4 720.0,370.1 720.4,398.5 719.3,427.0 718.6,455.4 717.1,483.8 716.6,512.3 717.1,540.7 716.8,569.2M488.8,405.5 519.7,406.0 550.6,407.9 581.5,407.7 612.4,408.4 643.3,409.0 674.2,409.4M659.1,430.7 659.2,461.6 658.6,492.4 657.6,523.2 657.4,554.1 658.0,584.9M790.5,373.9 791.5,403.2 792.6,432.5 792.7,461.8 792.1,491.1 793.3,520.4 794.9,549.6"/>
<path d="M1040.9,570.3 1070.3,569.5 1099.7,569.5 1129.1,569.5 1158.5,568.6 1187.9,567.8 1217.3,568.0 1246.7,567.5 1276.0,565.9 1305.4,565.1 1334.9,565.3 1364.2,564.7 1393.6,563.4 1423.0,563.4 1452.5,563.9 1481.9,563.2 1511.2,562.3 1540.7,562.2 1570.1,561.9 1599.4,560.9"/>
<path d="M1221.0,478.9 1250.8,471.7 1281.0,466.7 1310.8,459.3 1339.1,453.1 1367.1,445.9 1395.2,438.6 1423.6,432.7 1452.0,427.1 1480.4,421.2 1481.4,456.0 1480.0,490.8"/>
<path d="M789.9,630.9 792.6,664.0 794.2,697.2 795.5,730.5M869.7,610.6 870.9,640.6 872.6,670.6 874.1,700.6 875.6,730.6M1100.8,630.8 1100.9,663.8 1101.6,696.8 1099.7,729.8M1219.7,619.6 1220.1,653.2 1222.5,686.8 1224.2,720.3M1240.6,620.5 1240.8,653.9 1240.2,687.3 1240.9,720.7M1304.3,616.0 1305.3,651.0 1308.2,686.0 1308.5,721.1M1394.9,606.0 1396.2,637.1 1397.1,668.2 1399.1,699.2 1401.0,730.3M1418.8,606.0 1421.0,636.7 1420.4,667.5 1421.2,698.3 1422.2,729.1"/>
<path d="M690,640 Q750,650 770,730"/>
<path d="M669.6,680.1 710.3,680.4 751.0,680.1M689.3,699.3 724.1,701.2 759.0,700.8"/>
<path d="M1515.6,464.2 1514.6,514.0M1535.1,470.1 1540.3,512.8M1555.8,464.6 1559.8,504.2 1575.2,511.7M1590.5,464.5 1590.7,490.0 1591.7,515.4M1499.9,519.8 1532.9,519.4 1565.9,519.8 1599.0,520.4"/>
</g>
<g class="t">
<path d="M164.6,169.3 192.7,172.9 220.9,175.5 250.8,176.0 280.8,177.3 310.7,178.2 340.7,178.2 370.6,178.6 400.6,178.8 433.9,177.6 467.2,175.5 500.6,174.1 527.3,166.6 554.2,159.9"/>
<path d="M1131.0,166.1 1101.6,180.8 1072.9,196.8 1044.7,213.8 1015.6,229.1M1130.8,198.9 1095.3,221.0 1060.7,244.5M1164.8,185.3 1194.8,183.9 1224.8,182.6 1254.9,182.9 1284.9,182.7M1009.0,250.8 1041.9,246.1 1074.8,241.2 1107.7,236.4 1140.5,231.1M1010.0,289.3 1037.6,283.5 1065.1,277.4 1092.3,269.7 1119.6,262.9"/>
<path d="M729.2,399.3 762.6,398.4 796.1,398.0 829.5,394.8M730.2,429.0 760.7,428.0 791.1,428.2M799.6,361.0 829.3,358.5 859.1,355.3"/>
<path d="M349.4,0.4 352.0,30.3 354.6,60.2 358.2,90.0 361.4,119.8 364.3,149.6 368.2,179.4 371.8,209.2 373.9,239.1 376.0,269.1 379.6,298.8 381.1,327.6 383.3,356.4 386.6,385.0 389.7,413.7 392.1,442.4 394.2,471.1 396.5,499.9 398.2,528.7 399.1,557.5 400.7,586.3 403.7,615.0 407.0,643.6 409.7,672.3 412.0,701.0 413.9,729.8"/>
<path d="M610.8,19.5 640.1,19.3 669.5,20.0 698.8,20.1M620.7,40.7 655.2,39.8 689.8,39.6"/>
</g>
<g class="f">
<path d="M975.1,9.3 950.1,32.2 925.2,55.2"/>
</g>
</g>
<g transform="translate(800,260) scale(.25)">
<g class="k">
<path d="M541.0,605.5 571.0,604.7 601.0,602.8 631.0,602.3 661.0,601.6 691.1,601.1M641.0,575.9 690.2,574.7 695.2,610.1"/>
<path d="M664.7,640.5 667.4,670.2 669.5,699.9 669.4,729.7M690.6,640.3 690.3,670.1 689.7,699.8 689.7,729.6"/>
</g>
<g class="m">
<path d="M490.6,168.2 517.4,169.9 515.9,208.7 488.6,205.9 490.6,168.2"/>
<path d="M700.8,614.4 732.0,611.7 763.4,610.2 794.7,609.0 826.0,606.2 857.2,603.4 888.5,601.5 919.7,598.8 951.0,596.1M700.9,639.9 731.4,638.7 761.9,637.1 792.4,634.3 822.8,631.6 853.3,629.7 883.8,628.2 914.4,626.9 944.9,625.0M941.0,589.9 968.9,593.0 965.7,628.7 941.3,625.7 941.0,589.9"/>
<path d="M711.2,649.5 713.0,690.0 716.1,730.3M730.7,649.5 728.6,689.7 729.3,730.0"/>
<path d="M555.0,545.0 556.0,590.2M575.0,550.9 580.2,591.0M595.3,545.5 600.1,584.1 615.2,590.9M630.6,546.1 631.4,595.9"/>
</g>
</g>
<g transform="translate(200,440) scale(.25)">
<g class="k">
<path d="M139.2,90.8 167.4,90.9 195.6,90.0 223.8,89.3 252.1,89.7 280.3,89.9 308.5,89.2 336.7,88.9 364.9,89.8 393.2,90.4 421.4,89.4 449.6,88.1 477.8,87.9 506.0,88.2 534.2,87.7 562.5,87.0 590.7,87.1 618.9,87.3M139.5,91.3 142.6,113.1 171.0,112.6 199.4,112.5 227.8,112.7 256.2,112.1 284.5,111.3 312.9,111.9 341.3,113.1 369.7,113.2 398.1,112.7 426.4,113.2 454.8,114.0 483.2,113.5 511.6,112.3 540.0,111.9 568.3,112.2 596.7,112.0 625.1,112.1"/>
<path d="M614.9,44.2 615.1,73.3 615.5,102.3 614.8,131.4 613.6,160.4 613.7,189.5 614.2,218.6 615.1,247.6 614.3,276.7 614.0,305.8M641.0,50.6 641.0,78.9 641.0,107.2 640.9,135.5 640.1,163.8 639.5,192.1 639.9,220.3 640.0,248.6 639.8,276.9 639.8,305.2M614.7,44.7 644.1,44.5"/>
<path d="M339.3,292.8 370.8,291.6 402.4,289.9 434.0,289.7 465.5,287.9 497.2,288.1 528.7,286.8 560.3,285.7"/>
<path d="M390.4,355.2 420.3,353.5 450.3,353.9"/>
<path d="M1290.0,90.9 1319.8,89.3 1349.6,88.0 1379.5,87.8 1409.4,88.0 1439.2,86.0"/>
</g>
<g class="m">
<path d="M1140.3,289.4 1170.3,289.0 1200.2,288.6 1230.1,289.3 1260.0,289.7 1290.0,288.8 1319.9,288.3 1349.8,288.3 1379.7,287.6 1409.7,287.4 1439.6,287.8"/>
<path d="M96.8,0.9 97.5,30.0 98.7,59.0 98.5,88.1 97.3,117.2 97.7,146.3 97.4,175.4 98.2,204.5 100.4,233.6 100.4,262.7 100.6,291.8 100.4,320.9M114.5,0.7 114.6,29.5 115.2,58.3 114.7,87.1 114.4,115.8 114.9,144.6 114.1,173.4 113.6,202.2 114.3,231.0 114.1,259.8 114.0,288.6 114.4,317.4"/>
<path d="M199.6,85.1 225.0,64.4 249.5,42.6 274.1,21.0 298.8,-0.5M320.4,85.2 339.7,64.8 360.0,45.5 380.9,26.7 399.6,5.7"/>
<path d="M320.6,115.7 339.6,140.1 359.7,163.7 379.6,187.3 400.4,210.2 433.0,208.1 465.6,205.9 498.3,205.7 530.9,204.2M409.2,125.9 432.0,142.9 455.2,159.6 477.2,177.7 500.0,194.8 534.8,195.5 530.5,204.8"/>
<path d="M185.2,313.9 206.8,292.1 227.9,269.8 247.8,246.4 268.6,223.9 289.1,201.0 323.1,203.2 357.1,203.7 391.1,204.7 372.2,226.1 354.7,248.7 337.0,271.1 318.4,292.7 299.9,314.4"/>
<path d="M320.5,360.6 320.3,394.2 321.9,427.7 324.0,461.2 324.5,494.8M348.9,359.9 349.8,393.5 350.5,427.1 349.9,460.7 350.5,494.3M320.8,496.4 352.1,495.9"/>
<path d="M500.9,359.2 501.5,388.2 500.0,417.2 500.4,446.2M523.9,359.7 524.4,388.0 523.9,416.2 522.2,444.4M499.6,445.4 525.3,439.8"/>
<path d="M615.4,348.9 615.7,377.7 615.7,406.5 616.2,435.2 617.9,464.0 618.2,492.7 617.2,521.5 617.3,550.3 617.3,579.0M639.8,349.1 641.0,377.9 640.5,406.6 641.1,435.4 641.1,464.1 640.6,492.9 641.9,521.6 641.5,550.4 642.7,579.1"/>
<path d="M1166.0,354.0 1165.8,382.1 1168.2,410.2 1168.0,438.3 1169.1,466.4 1169.2,494.5M1190.1,355.0 1189.5,389.7 1189.2,424.5 1191.0,459.3 1190.1,494.1M1167.4,497.3 1191.7,493.9M1581.1,349.6 1581.0,377.7 1581.4,405.7 1582.6,433.7 1583.5,461.7 1584.9,489.7M1598.9,351.0 1599.5,385.6 1599.3,420.1 1600.0,454.6 1600.2,489.1"/>
<path d="M1172.7,193.2 1144.6,200.7 1116.4,207.7 1088.1,214.3 1059.9,221.2 1031.7,228.1 1003.5,234.9 975.4,242.4 947.5,250.3 919.3,257.5 891.0,263.8 862.7,270.4 834.5,277.5 806.4,284.6 778.2,291.7 750.1,298.9M738.1,295.2 759.2,304.3"/>
<path d="M1141.1,294.3 1153.4,259.0 1166.3,224.0 1180.1,189.3 1228.9,191.2 1227.0,226.1 1223.3,260.9 1220.7,295.7"/>
<path d="M1288.9,19.6 1317.4,19.7 1345.9,20.9 1374.4,20.7 1402.8,19.3 1431.3,20.0 1459.8,19.4 1461.4,52.2 1459.7,84.9 1431.3,85.7 1402.9,85.6 1374.5,84.6 1346.1,84.7 1317.7,85.9 1289.3,85.9 1289.0,52.8 1288.9,19.6"/>
<path d="M1235.0,129.9 1264.3,129.6 1293.7,130.0 1323.0,129.9 1352.4,128.8 1381.7,128.5 1411.1,127.9 1440.4,127.3 1444.1,153.2 1445.2,179.4M1233.9,179.8 1264.1,181.7 1294.4,182.6 1324.7,181.8 1355.0,181.8 1385.3,183.2 1415.5,184.3 1445.8,185.5M1240.8,228.0 1270.0,228.5 1299.2,228.5 1328.4,228.4 1357.6,229.2 1386.8,229.2 1416.0,229.9 1445.2,230.5M1235.4,258.9 1264.6,258.7 1293.8,259.1 1323.0,259.4 1352.2,259.6 1381.4,260.7 1410.6,261.8 1439.8,261.3M1444.3,184.5 1449.5,219.8 1454.8,255.0 1459.9,290.2M1235.8,130.6 1237.0,163.2 1235.4,195.8 1234.3,228.5 1234.3,261.1"/>
</g>
<g class="t">
<path d="M548.9,0.1 549.7,28.5 551.5,57.0 552.4,85.4 552.3,113.9 552.4,142.4 552.8,170.9 552.8,199.4 553.1,227.9 554.5,256.3 555.8,284.8M562.3,-1.0 562.5,27.6 562.5,56.3 561.7,84.9 562.3,113.5 562.3,142.2 563.7,170.8 564.0,199.4 564.6,228.0 564.3,256.7 564.1,285.3"/>
<path d="M329.0,119.7 330.7,160.0 331.4,200.4"/>
</g>
<g class="f">
<path d="M644.4,575.6 670.8,563.0 697.3,550.5 723.5,537.2 749.1,523.1 775.2,509.7 801.6,497.0 827.9,484.2 854.6,472.1 881.6,460.4 907.7,447.3 933.5,433.2 959.5,419.8 985.6,406.4 1011.7,393.1 1038.3,380.7 1064.9,368.6 1091.0,355.3"/>
</g>
<g class="d">
<path d="M1234.0,100.2 1281.1,98.8M1234.6,113.8 1279.6,114.6M1238.8,144.1 1280.3,145.0M1240.4,159.7 1280.5,160.3M1235.7,94.5 1237.8,131.7 1238.0,169.0M1279.8,95.6 1282.0,133.3 1282.9,171.0"/>
<path d="M214.2,69.7 243.1,71.8 272.2,71.8 301.1,74.1 330.1,75.5M235.9,56.0 272.6,57.6 309.4,58.3 346.1,60.1M254.7,36.9 290.0,39.4 325.4,42.1 360.7,44.5M274.1,20.3 309.5,20.7 344.8,23.4 380.1,24.2"/>
<path d="M199.0,300.8 235.9,301.0 272.8,301.2 309.7,302.6M214.5,282.1 251.4,283.4 288.4,284.5 325.3,287.0M231.5,263.8 267.6,263.8 303.6,266.5 339.6,267.8M250.7,244.0 285.6,244.8 320.6,246.5 355.4,248.8M268.0,225.3 302.7,227.7 337.5,227.2 372.2,228.4"/>
<path d="M1151.0,280.9 1183.4,281.7 1215.7,281.1M1155.3,263.1 1187.6,264.0 1219.9,263.0M1162.1,245.5 1192.0,245.2 1222.0,245.8M1168.3,228.9 1196.7,228.8 1225.1,228.8M1175.4,211.0 1202.3,209.7 1229.2,209.2"/>
</g>
</g>
<g transform="translate(560,440) scale(.25)">
<g class="k">
<path d="M-1.0,81.7 27.7,81.9 56.4,81.7 85.1,81.4 113.8,82.0 142.5,82.9 171.3,82.8 200.0,82.3 228.7,83.0 257.4,83.9 286.1,83.1 314.8,82.1 343.6,82.5 372.3,83.3 401.0,82.7 429.7,81.9 458.4,82.9 487.1,84.2 515.9,84.0 544.6,83.5 573.3,84.2 602.0,85.2 630.7,84.7 659.4,83.7 688.2,84.0 716.9,84.6 745.6,84.3 774.3,83.8 803.0,84.3 831.7,84.9 860.5,84.9M0.6,113.9 29.3,114.2 58.1,114.5 86.9,114.8 115.7,113.1 144.4,113.8 173.2,114.1 202.0,115.5 230.8,115.8 259.5,113.8 288.3,114.2 317.1,113.6 345.9,116.0 374.6,116.2 403.4,115.2 432.2,114.8 461.0,113.6 489.7,116.1 518.5,116.1 547.3,116.4 576.1,115.5 604.8,114.7 633.6,115.9 662.4,116.0 691.2,116.0 690.3,144.9 691.4,173.7 691.5,202.5 691.4,231.3 691.1,260.2"/>
<path d="M104.8,178.6 132.9,178.6 160.9,177.8 188.9,178.1 216.9,177.1 244.9,176.3 272.9,177.9 301.0,177.9 329.0,177.2 357.0,178.6 385.0,177.9 413.0,176.0 441.0,176.5 469.1,176.0 497.1,174.7 525.1,175.8 553.1,176.2 581.1,175.6 609.1,175.5M105.3,177.2 102.4,208.1 102.2,239.1 99.6,270.0 127.8,270.2 156.0,269.7 184.2,269.4 212.5,269.3 240.7,269.0 268.9,268.2 297.1,267.9 325.4,268.5 353.6,269.2 381.8,269.1 410.0,268.7 438.3,268.8 466.5,269.1 494.7,268.8 522.9,267.8 551.2,267.2 579.4,267.2 607.6,267.3 635.8,267.3 634.2,246.0M99.3,224.2 128.5,224.1 157.8,224.0 187.0,223.8 216.3,224.5 245.5,224.4 274.7,223.3 304.0,223.3 333.2,223.2 362.4,222.2 391.7,222.5 420.9,223.5 450.1,223.1 479.4,223.0 508.6,223.4 537.8,222.6 567.1,221.9 596.3,222.2 625.5,222.2"/>
<path d="M978.8,-0.0 979.6,30.2 979.9,60.3 981.5,90.5 980.6,120.7 981.2,150.8 980.4,181.0 980.6,211.2M1005.9,0.2 1005.6,28.7 1006.1,57.2 1006.1,85.7 1005.0,114.1 1006.0,142.6 1007.4,171.1 1007.0,199.6"/>
<path d="M1529.9,348.7 1565.0,348.7 1600.0,347.6"/>
</g>
<g class="m">
<path d="M995.1,90.6 1026.2,90.0 1057.2,90.0 1088.2,90.7 1119.2,91.2 1150.2,90.9 1179.8,89.8 1209.4,89.1 1239.0,88.0 1268.7,88.5 1298.3,87.9 1327.9,87.9 1357.5,88.0 1387.1,86.5 1416.7,86.2 1446.3,84.8 1475.9,83.8 1505.5,83.6 1508.5,104.4 1478.7,105.0 1448.9,106.6 1419.1,107.0 1389.2,106.4 1359.4,107.4 1329.6,107.3 1299.8,105.9 1270.0,106.6 1240.2,107.6 1210.3,107.4 1180.5,108.4 1150.7,109.5 1122.5,109.7 1094.4,108.6 1066.2,107.1 1038.0,106.3 1009.8,105.8"/>
<path d="M51.2,13.0 79.2,13.2 107.3,13.0 135.3,13.1 163.4,13.3 191.4,12.6 219.5,11.6 247.5,11.5 275.6,11.9 303.6,11.8 331.7,11.3 359.7,11.5 387.8,12.4 415.8,12.8 443.9,12.4 471.9,12.0 500.0,12.2 528.0,12.1 556.1,11.5M40.2,29.5 69.2,29.8 98.2,29.6 127.2,28.6 156.2,27.7 185.2,28.0 214.2,28.7 243.2,28.8 272.2,28.8 301.2,29.5 330.3,29.9 359.2,29.0 388.2,27.5 417.2,26.9 446.2,27.2 475.2,27.4 504.2,27.3 533.2,27.5 562.2,27.4M35.5,47.4 63.7,47.1 91.9,47.1 120.1,48.3 148.3,47.4 176.6,46.9 204.8,46.0 233.0,45.5 261.2,47.5 289.4,47.1 317.7,47.6 345.9,46.2 374.1,44.8 402.3,45.8 430.5,45.8 458.8,47.1 487.0,46.4 515.2,45.5 543.4,45.4 571.6,45.5M40.0,61.1 68.2,61.3 96.4,61.3 124.7,61.8 152.9,61.8 181.1,61.6 209.4,61.6 237.6,60.5 265.9,60.7 294.1,59.4 322.3,60.1 350.6,59.3 378.8,60.3 407.0,60.2 435.3,60.9 463.5,61.3 491.7,61.2 520.0,61.4 548.2,60.8 576.4,60.5M554.8,11.0 561.9,28.9 571.6,44.8 576.7,60.2 579.4,82.7M0.2,0.9 20.8,0.9 20.1,41.8 20.3,82.7"/>
<path d="M-0.6,120.2 20.9,125.4 20.1,158.1 20.5,190.8 20.4,223.6 20.9,256.3 20.9,289.0M-0.1,179.2 33.6,181.8 67.4,183.3 101.1,183.8M-0.8,231.1 32.8,232.8 66.5,232.8 100.1,234.7"/>
<path d="M104.4,205.4 133.3,205.2 162.3,204.4 191.2,203.4 220.2,204.6 249.1,205.1 278.0,203.3 307.0,202.7 335.9,202.4 364.8,201.4 393.8,202.7 422.8,203.4 451.7,201.1 480.6,200.2 509.6,200.7 538.5,200.1 567.4,200.4 596.4,200.5 625.3,199.5M105.9,248.8 135.2,249.1 164.6,248.2 194.0,248.2 223.4,247.2 252.8,246.9 282.1,246.8 311.5,246.4 340.9,247.4 370.3,246.9 399.7,248.4 429.1,247.5 458.4,248.5 487.8,247.4 517.2,247.5 546.6,246.6 576.0,246.1 605.3,245.9 634.7,245.9M610.4,171.1 615.9,200.4"/>
<path d="M151.8,119.8 152.5,148.6 153.1,177.4M171.1,119.4 170.4,148.5 170.9,177.6M510.6,120.6 513.0,147.7 513.0,174.9M525.9,120.2 526.7,150.0 525.6,179.8"/>
<path d="M250,294 Q400,266 555,298 Q400,368 250,294"/>
<path d="M144.0,349.2 144.5,377.4 145.0,405.6 147.5,433.7 147.7,461.9 148.5,490.0M173.2,349.6 172.0,377.8 171.8,405.9 173.0,434.1 173.1,462.2 171.3,490.3M146.0,491.1 172.1,489.3M510.4,363.9 512.6,394.5M525.9,363.9 526.0,394.8M559.6,360.2 559.2,393.8 561.5,427.3 561.2,460.9M584.9,358.9 584.7,392.7 584.7,426.4 584.7,460.1M559.8,459.0 585.1,460.9M779.8,355.3 782.1,395.1M796.9,353.9 797.5,395.9M866.9,355.2 868.4,384.5 869.1,413.8M884.8,356.0 885.7,386.6 885.1,417.3M984.7,354.3 983.0,382.6 984.2,411.0 985.3,439.4 983.9,467.8M1007.8,355.0 1007.9,383.3 1008.2,411.6 1008.9,439.9 1008.6,468.3M985.8,468.4 1007.9,467.1M1394.5,345.8 1394.8,375.8 1393.9,405.8 1393.5,435.7 1394.1,465.7 1394.7,495.7M1419.3,346.2 1419.4,375.9 1420.4,405.6 1420.0,435.3 1418.9,464.9 1419.7,494.6M1395.5,495.1 1421.1,494.3"/>
<path d="M690.1,119.1 724.2,125.8 758.8,129.2 761.7,156.7 764.2,184.2 795.1,182.7 826.1,182.1 857.1,182.3 888.1,183.2 919.0,181.4 950.0,180.3M690.2,164.4 730.4,176.1 769.8,190.5 774.9,229.0 805.8,229.1 836.7,228.6 867.6,229.4 898.6,228.6 929.5,227.7 960.4,227.3M689.6,261.1 719.7,268.5 749.4,277.5 779.3,285.5M781.0,262.1 810.9,262.1 840.7,262.5 870.6,261.3 900.4,260.1 930.3,260.0 960.1,259.4 989.9,258.3M784.2,285.6 814.9,285.0 845.6,284.4 876.2,284.2 906.9,285.0 937.6,285.1 968.3,284.7 998.9,284.2M769.0,190.1 773.6,221.4 775.7,253.0 779.1,284.5"/>
<path d="M949.6,179.9 965.9,180.6 965.0,199.7 984.8,199.5 985.0,218.8 1006.1,219.3 1004.4,245.9 1029.0,245.0 1029.3,267.2 1054.3,267.3 1054.7,290.9"/>
<path d="M1066.1,225.4 1068.6,260.0 1069.5,294.6M868.8,59.8 891.6,78.3 914.6,96.6 938.2,113.9 961.8,131.4 984.7,149.8 1007.5,168.2 1030.5,186.3 1053.5,204.6 1076.5,222.8 1099.9,240.5"/>
<path d="M1100.1,0.4 1100.7,29.2 1102.1,57.9 1103.6,86.7 1103.8,115.4 1103.1,144.2 1103.1,173.0 1104.0,201.7 1104.7,230.5M1114.3,-0.8 1114.9,27.9 1116.8,56.7 1116.5,85.5 1116.8,114.2 1117.6,143.0 1116.3,171.8 1117.2,200.5 1118.0,229.3M1225.4,-0.2 1225.2,31.2 1225.2,62.5 1225.0,93.9 1226.0,125.3 1227.4,156.7 1227.6,188.0 1227.1,219.4 1226.9,250.8M1245.3,-1.2 1246.0,26.8 1245.5,54.9 1245.5,82.9 1246.3,110.9 1246.4,138.9 1246.1,166.9 1246.7,194.9 1247.9,222.9 1248.0,250.9M1305.6,-1.0 1306.0,30.0 1307.7,61.0 1308.1,92.0 1308.4,123.0 1308.7,153.9 1308.2,184.9 1309.4,215.9M1395.0,-0.3 1394.8,30.4 1395.0,61.1 1395.7,91.7 1396.1,122.4 1396.2,153.1 1396.8,183.8 1397.2,214.4 1397.1,245.1 1396.9,275.8M1415.9,-0.7 1416.6,29.8 1417.3,60.3 1417.5,90.9 1417.6,121.4 1416.9,151.9 1416.3,182.5 1417.1,213.0 1418.7,243.5 1418.6,274.0M1469.7,50.9 1471.1,80.1 1473.1,109.2 1474.0,138.4 1473.5,167.6 1473.7,196.8 1475.8,226.0"/>
<path d="M1010.1,10.5 1038.3,4.3 1066.9,0.5 1095.4,-3.3M1010.1,41.9 1044.0,39.5 1077.8,35.9 1111.6,31.9 1145.4,28.6 1147.2,60.9 1148.1,93.3"/>
<path d="M865.1,-0.6 864.7,29.0 863.7,58.6 864.3,88.2 864.3,117.8 863.8,147.3 864.9,176.9M885.2,-0.3 884.5,29.8 884.8,59.9 884.8,90.0 885.7,120.1"/>
<path d="M1119.1,214.6 1146.7,220.9 1174.0,228.2 1201.5,234.9 1229.2,240.7 1257.8,243.0 1286.4,244.1 1315.0,245.6 1343.6,247.6 1372.1,249.6 1400.7,251.6 1429.3,254.1 1457.8,256.2 1486.5,257.2 1515.1,257.8 1543.7,259.7 1572.2,262.6 1600.8,264.3M1130.2,155.0 1162.9,160.9 1196.0,164.3 1228.8,169.5M1259.2,181.2 1289.7,183.7 1320.2,184.9M1329.4,195.4 1364.6,196.2 1399.7,198.9M1339.9,164.2 1368.1,163.6 1396.2,164.6 1424.3,166.7 1452.4,167.4 1480.5,168.8"/>
<path d="M870.2,125.0 904.9,124.7 939.7,125.1M870.5,140.6 905.3,140.9 940.0,140.3M869.0,156.1 904.3,155.1 939.5,154.4M868.9,169.8 904.7,169.1 940.5,170.5M870.6,60.0 869.2,88.5 869.8,117.1 869.7,145.6 869.1,174.1"/>
</g>
<g class="b">
<path d="M1105.0,234.0 1119.5,268.7 1131.7,304.3"/>
</g>
<g class="t">
<path d="M404.2,0.0 406.4,30.0 409.8,59.9 414.3,89.7 416.3,119.7 420.0,149.6 423.2,179.5 424.2,209.6 427.6,239.5 430.7,269.5"/>
<path d="M1285.4,355.4 1314.1,362.1 1343.0,367.8 1371.2,376.5 1400.0,382.6 1428.2,391.2 1457.4,395.6 1485.9,403.0 1514.8,408.6 1543.1,416.9 1571.7,423.8 1600.4,430.3M1429.8,396.0 1458.2,399.6 1486.3,405.1 1514.6,409.9 1543.1,412.3 1571.5,416.3 1599.8,420.1"/>
</g>
<g class="x">
<circle cx="428" cy="290" r="16"/>
</g>
</g>
<g transform="translate(800,420) scale(.25)">
<g class="k">
<path d="M665.3,0.1 666.6,30.4 666.7,60.8 666.7,91.1 667.4,121.4 667.6,151.7 666.7,182.1 666.6,212.4 667.8,242.7 668.7,273.0 668.8,303.3 669.6,333.6 670.2,363.9"/>
<path d="M905.6,299.3 947.2,298.9 988.8,300.4M906.1,322.1 947.8,322.2 989.5,321.6M884.4,259.5 885.5,287.9 887.0,316.4 889.1,344.8M1000.1,265.8 998.6,294.0 999.3,322.2 998.9,350.3"/>
<path d="M1010.8,348.8 1013.9,393.9 1045.9,395.0 1078.0,394.7 1110.1,396.0 1109.2,364.6 1137.1,369.6 1165.0,375.1 1166.1,414.5 1132.8,415.9 1099.5,417.3 1066.2,417.9 1032.9,418.5 999.6,420.5"/>
<path d="M569.6,428.0 599.4,429.9 629.2,431.1"/>
<path d="M1119.1,535.9 1121.2,565.8 1122.6,595.7 1125.1,625.6 1101.0,628.7"/>
</g>
<g class="m">
<path d="M689.5,0.3 691.3,33.9 691.2,67.5 690.3,101.1M711.3,9.2 713.0,46.0 711.7,83.0 714.1,119.8M729.6,11.0 730.7,47.2 729.7,83.4 729.8,119.7M712.3,245.5 713.9,275.6 715.4,305.7 715.7,335.9M731.0,245.4 731.8,275.7 732.2,305.9 732.3,336.2"/>
<path d="M551.8,32.6 576.5,45.8 601.4,58.8 626.1,72.0 650.5,85.9 675.5,98.6 700.9,110.3 725.9,123.2 750.7,136.1 776.1,148.0 801.1,160.8 825.2,175.1 849.8,188.5 874.7,201.4 899.2,215.2 923.8,228.6 949.0,240.8 974.1,253.3 999.0,266.3M489.1,42.3 513.8,56.1 538.6,69.5 563.4,83.2 588.6,95.9 613.3,109.6 638.1,123.3 663.0,136.6 687.3,151.1 712.1,164.6 736.9,178.2 761.5,192.1 786.7,204.9 811.6,218.4 836.4,231.9 861.4,245.1 885.9,259.1M470.7,97.1 494.8,113.4 519.2,129.3 543.8,144.8 568.1,160.8 592.3,176.8 616.8,192.5 640.9,208.7 664.8,225.3 689.1,241.3 713.6,257.0 737.9,273.0 762.2,288.9 788.1,299.6 813.0,312.5 838.5,324.2 864.1,335.7 889.3,347.8"/>
<path d="M1175.2,535.3 1174.2,565.3 1175.7,595.4 1175.3,625.4 1175.4,655.5 1174.4,685.5M1110.1,530.9 1145.1,536.2 1180.1,541.2"/>
<path d="M435.9,429.7 436.0,458.6 436.6,487.4 436.4,516.3 436.3,545.1 437.3,574.0M463.2,429.6 463.7,458.7 462.7,487.9 463.9,517.1 463.1,546.3 462.6,575.4M436.0,575.4 461.3,574.8M840.4,414.5 840.8,447.5 844.5,480.3M861.8,414.2 863.5,444.1 862.7,474.0"/>
<path d="M1035.8,339.7 1034.1,363.0M1050.7,324.6 1051.8,361.8M1064.2,315.7 1068.6,362.7M1079.2,319.7 1078.4,359.0M1100.6,294.6 1094.1,327.2 1086.8,359.6"/>
<path d="M433.8,45.3 434.6,75.8 433.8,106.2 434.0,136.7 435.0,167.1 435.3,197.6 437.0,228.0 438.8,258.4 438.6,288.9 438.7,319.3 438.7,349.8M459.8,44.5 459.9,75.1 460.0,105.7 460.7,136.2 462.2,166.8 460.3,197.4 459.7,228.0 461.8,258.5 461.9,289.1 462.0,319.7 462.0,350.2M505.8,101.1 506.8,130.3 507.0,159.5 507.1,188.6 507.4,217.8 508.3,247.0 509.5,276.1 509.6,305.3"/>
<path d="M400.6,329.3 430.4,332.9 460.2,336.2 490.0,340.3 519.9,343.4 549.8,345.5 579.6,349.0 609.3,353.7 639.1,357.3 669.0,360.6"/>
<path d="M400.9,69.1 430.7,62.1 460.6,55.3 490.3,47.8 520.3,41.7 550.3,35.5 580.3,29.6 610.4,23.9 640.2,17.0 670.0,9.8"/>
</g>
<g class="t">
<path d="M329.2,435.6 357.1,442.4 385.1,448.8 413.1,455.1 441.0,461.8 468.8,468.8 496.6,475.7 524.5,482.6 552.3,489.8 580.0,497.4 607.7,504.8 635.6,511.5 663.6,517.9 691.5,524.6 719.4,531.2 747.4,537.3 775.5,543.1 803.5,549.6 831.3,556.6 859.2,563.6 887.0,570.4 914.8,577.5 942.5,585.0 970.3,592.4 998.1,599.3 1026.1,605.8 1054.0,612.5 1081.9,619.1 1109.9,625.5"/>
<path d="M1174.4,539.1 1201.6,547.6 1229.0,555.4 1256.4,563.2 1283.8,571.2 1311.3,578.5 1338.8,586.2 1366.0,594.4 1393.4,602.4 1420.8,610.4 1447.9,619.2 1475.1,627.6 1502.4,635.6 1529.6,644.1 1556.9,652.3 1584.4,659.9 1611.8,667.7 1639.2,675.5"/>
<path d="M1025.2,470.7 1050.9,470.3"/>
</g>
<g class="d">
<path d="M870.1,468.8 897.9,474.9 925.6,481.4 953.2,488.6 981.0,494.8 1008.8,500.7 1036.3,508.3 1063.7,515.9 1091.6,521.9 1119.4,528.0 1147.0,535.0 1174.7,541.2M570.7,428.5 599.6,433.8 628.6,438.4 657.5,443.9 686.2,450.3 715.1,455.7 744.1,460.3 773.1,465.3 802.1,470.0 831.0,475.3 859.7,482.0 888.5,487.8 917.6,491.9 946.7,496.5 975.6,502.0 1004.4,507.4 1033.2,513.2 1062.1,518.9 1091.1,523.6 1120.0,528.8"/>
</g>
</g>
<g transform="scale(.25)">
<g class="k">
<path d="M27.5,2080.9 57.7,2081.7 88.0,2081.2 118.2,2080.1 148.5,2079.8 178.7,2081.1 208.9,2082.1 239.2,2081.1 267.6,2081.0 296.1,2080.6 324.5,2081.3 353.0,2080.5 381.4,2079.5 409.9,2079.3 438.3,2077.4 466.7,2076.9 495.2,2076.8 523.7,2076.9 554.3,2077.0 584.9,2076.4 615.5,2076.3 646.0,2075.0 676.6,2073.4 707.2,2073.0 737.8,2072.2 768.4,2072.5 799.0,2072.2 834.3,2073.0 869.6,2075.5 904.9,2076.9 933.5,2076.5 962.0,2075.7 990.6,2074.9 1019.2,2075.1 1047.8,2073.5 1076.3,2072.1 1104.9,2072.3 1133.5,2070.7 1162.1,2070.0 1190.7,2070.8 1219.2,2069.6 1247.8,2068.9 1276.4,2069.1 1305.0,2067.4 1333.5,2066.4 1362.1,2066.2 1390.7,2065.1 1419.3,2064.8 1447.4,2065.0 1475.5,2065.3 1503.6,2063.5 1531.7,2063.9 1559.8,2064.1 1587.9,2063.6 1616.0,2064.9 1644.1,2064.0 1672.2,2062.9 1700.3,2063.4 1728.8,2063.1 1757.2,2063.4 1785.6,2064.1 1814.0,2063.5 1842.4,2064.2 1870.8,2063.5 1899.2,2062.6 1927.6,2063.3 1956.0,2062.5 1984.4,2063.3 2012.8,2064.2 2041.2,2063.5 2069.6,2064.2 2098.1,2063.6 2126.5,2062.8 2154.9,2063.3 2183.3,2062.9 2211.7,2063.3 2240.1,2063.4 2271.1,2063.2 2302.1,2061.7 2333.1,2060.8 2364.1,2059.4 2395.0,2057.0 2426.0,2056.3 2457.0,2054.1 2488.0,2053.9"/>
<path d="M2795.7,2058.7 2824.7,2058.9 2853.7,2059.2 2882.6,2058.9 2911.6,2058.3 2940.6,2058.4 2969.6,2058.5 2998.6,2058.0 3027.6,2057.9 3056.6,2058.8 3085.6,2059.3 3114.6,2059.1 3143.6,2059.3 3172.6,2059.9 3201.6,2059.6 3230.6,2058.9 3259.5,2058.9 3288.5,2059.0 3317.5,2058.6 3346.5,2058.6 3375.5,2059.0 3403.7,2058.8 3431.9,2059.2 3460.1,2060.0 3488.3,2059.3 3516.4,2061.7 3544.6,2061.1 3572.8,2062.6 3601.0,2062.6 3631.0,2061.1 3661.1,2059.2 3691.1,2058.1 3721.1,2055.1 3751.0,2051.4 3781.0,2049.8 3811.1,2048.8 3841.1,2047.2 3869.5,2046.1 3897.8,2045.1 3926.1,2044.5 3954.5,2044.6 3982.8,2043.6 4011.1,2042.0 4039.4,2041.1 4067.7,2039.6 4096.0,2037.2 4124.3,2036.1 4152.6,2035.3 4180.9,2034.2 4209.2,2034.0"/>
<path d="M910.8,2133.0 939.1,2131.4 967.4,2131.1 995.7,2130.4 1023.9,2129.0 1052.2,2128.8 1080.5,2128.5 1108.7,2126.3 1137.0,2124.4 1165.3,2123.8 1193.5,2122.2 1221.7,2119.7 1250.0,2119.1 1278.3,2119.0 1306.6,2117.7 1334.8,2116.7 1363.2,2116.7 1391.4,2115.8 1419.7,2114.1 1447.7,2114.2 1475.7,2114.3 1503.8,2114.3 1531.8,2113.2 1559.8,2112.3 1587.8,2113.6 1615.9,2115.1 1643.9,2114.1 1671.9,2112.5 1699.9,2112.4 1728.0,2112.8 1756.0,2112.7 1784.0,2113.7 1812.1,2114.5 1840.1,2112.7 1868.1,2110.5 1896.1,2111.6 1924.2,2113.8 1952.2,2113.6 1980.2,2112.3 2008.2,2111.9 2036.3,2111.5 2064.3,2110.8 2092.3,2112.0 2120.4,2113.7 2148.4,2112.6 2176.4,2110.3 2204.4,2110.4 2232.5,2111.7 2260.5,2111.9 2288.5,2111.6 2316.6,2111.5 2344.6,2111.0 2372.6,2110.5 2400.6,2110.9 2428.9,2110.9 2457.1,2110.6 2485.3,2110.8 2513.5,2110.7 2541.7,2110.3 2569.9,2110.5 2598.2,2109.9 2626.4,2109.5 2654.6,2109.8 2682.8,2109.1 2711.0,2109.3 2739.3,2109.8 2767.5,2109.2 2795.7,2109.8 2823.9,2109.7 2852.1,2108.9 2880.4,2109.3 2908.6,2108.5 2936.8,2107.9 2965.0,2108.4 2993.2,2107.6 3021.5,2107.9 3049.7,2108.5 3077.9,2107.8 3106.1,2108.5 3134.3,2108.5 3162.5,2107.5 3190.8,2108.0 3219.0,2107.2 3247.2,2106.5 3275.4,2107.1 3303.6,2106.3 3331.9,2106.5 3360.1,2107.2 3388.3,2106.6 3416.5,2107.1 3444.7,2107.1 3473.0,2106.2 3501.2,2106.5 3529.4,2105.9 3557.6,2105.3 3585.8,2105.8 3614.1,2105.2 3642.3,2105.3 3670.5,2105.7 3698.7,2105.3 3726.9,2105.5 3755.2,2105.4 3783.4,2104.9 3811.6,2104.9 3839.8,2104.7 3869.9,2104.3 3899.9,2103.9 3929.9,2103.4 3960.0,2102.3 3990.0,2103.9 4020.1,2102.8 4050.1,2103.8 4080.2,2102.7 4110.2,2101.4 4140.3,2101.7 4170.3,2100.7 4200.4,2101.1 4232.9,2099.5 4265.5,2099.7 4298.1,2099.8 4330.6,2097.1 4363.1,2095.7"/>
<path d="M907.8,2078.9 910.6,2107.6 909.5,2136.4"/>
</g>
<g class="m">
<path d="M523.3,2076.9 523.7,2104.9 524.8,2132.9 527.6,2160.8 528.3,2188.8 530.2,2216.8 532.8,2244.7 532.3,2272.8 533.1,2300.8 534.6,2328.8 534.7,2356.8 536.8,2384.8 565.0,2385.2 593.3,2385.2 621.5,2385.3 649.8,2385.5 678.0,2385.2 706.2,2384.8 734.5,2385.0 762.7,2385.1 791.0,2384.9 819.2,2385.5 847.4,2386.3 875.7,2386.2 903.9,2386.4 932.1,2386.9 960.4,2386.4 988.6,2385.8 1016.9,2385.9 1045.1,2385.9 1073.3,2385.5 1101.6,2386.0 1129.8,2386.8 1158.1,2386.8 1186.3,2387.0 1214.5,2387.6 1242.8,2387.4 1271.0,2387.0 1299.2,2387.1 1327.5,2387.0 1355.7,2386.7 1384.0,2387.0 1412.2,2387.4 1440.4,2387.5 1469.0,2387.7 1497.5,2387.6 1526.1,2387.2 1554.6,2387.1 1583.1,2387.3 1611.7,2387.1 1640.2,2386.7 1668.8,2386.9 1697.3,2387.5 1725.8,2387.7 1754.4,2387.4 1782.9,2387.5 1811.4,2388.0 1840.0,2387.9 1868.5,2387.1 1897.1,2386.8 1925.6,2387.1 1954.1,2387.0 1982.7,2386.5 2011.2,2386.4 2039.8,2387.0 2068.3,2387.3 2096.8,2387.0 2125.4,2387.0 2153.9,2387.3 2182.5,2387.4 2211.0,2387.0 2239.5,2386.9 2267.6,2386.8 2295.6,2385.6 2323.6,2385.3 2351.6,2384.1 2379.6,2382.8 2407.7,2382.5 2435.7,2380.6 2463.7,2381.0 2491.7,2379.8 2519.8,2379.7 2547.8,2379.9 2575.8,2378.6 2603.9,2379.3 2631.9,2377.5 2659.9,2377.1 2687.9,2376.0 2715.9,2374.3 2744.0,2374.2 2772.0,2372.3 2800.0,2372.4 2828.0,2371.6 2856.1,2371.0 2884.1,2371.0 2912.1,2370.0 2940.2,2369.3 2970.1,2368.5 3000.0,2368.3 3029.9,2366.5 3059.8,2366.5 3089.7,2364.9 3119.5,2362.7 3149.4,2362.8 3179.3,2361.3 3209.2,2360.6 3239.1,2360.1 3267.7,2360.0 3296.3,2360.0 3324.9,2360.4 3353.5,2361.2 3382.1,2361.4 3410.7,2360.8 3439.3,2360.3 3467.9,2360.6 3496.5,2361.1 3525.1,2361.2 3553.7,2361.4 3582.3,2361.9 3610.9,2362.3 3639.5,2361.9 3668.1,2361.2 3696.7,2361.2 3725.3,2362.0 3753.9,2362.6 3782.5,2362.6 3811.1,2362.5 3839.7,2362.6 3867.9,2362.4 3896.0,2362.2 3924.1,2363.0 3952.3,2363.6 3980.4,2363.6 4008.6,2363.3 4036.7,2362.8 4064.8,2362.7 4093.0,2364.0 4121.1,2365.0 4149.3,2364.1 4177.4,2363.1 4205.6,2363.5 4233.7,2364.4 4261.8,2364.8 4290.0,2364.9 4318.1,2364.6 4346.3,2364.3 4374.4,2364.8"/>
<path d="M908.8,2131.7 879.2,2130.4 849.5,2130.0 819.9,2130.3 790.3,2130.5 760.6,2130.1 731.0,2129.8 701.4,2129.6 671.7,2128.6 642.1,2127.2 612.5,2126.4 582.9,2126.4 582.8,2156.5 583.3,2186.5 583.9,2216.6 583.3,2246.6 583.8,2276.7 582.8,2306.8 583.0,2336.8 611.6,2337.0 640.1,2337.0 668.7,2337.0 697.3,2336.8 725.8,2336.2 754.4,2336.1 782.9,2336.3 811.5,2336.3 840.1,2336.3 868.6,2336.8 897.2,2337.4 925.7,2337.5 954.3,2337.2 982.8,2337.4 1011.4,2337.3 1040.0,2336.6 1068.5,2336.0 1097.1,2336.0 1125.6,2336.1 1154.2,2335.9 1182.8,2336.0 1211.3,2336.6 1239.9,2337.0 1268.4,2337.0 1297.0,2337.0 1325.6,2337.2 1354.1,2337.0 1382.7,2336.6 1411.2,2336.4 1439.8,2336.5 1468.6,2334.3 1497.5,2333.2 1526.3,2331.5 1555.1,2329.4 1584.0,2328.4 1612.9,2327.3 1641.7,2324.9 1670.5,2322.7 1699.3,2321.0 1727.7,2321.9 1756.1,2321.9 1784.5,2322.4 1812.9,2324.0 1841.2,2325.5 1869.7,2325.9 1898.1,2325.9 1926.5,2326.4 1954.9,2326.9 1983.3,2327.8 2011.6,2329.4 2040.0,2330.9 2068.4,2330.9 2096.8,2330.4 2125.2,2331.2 2153.6,2332.7 2182.0,2333.7 2210.4,2334.3 2238.8,2334.9 2267.4,2334.8 2296.0,2334.6 2324.6,2333.4 2353.2,2333.3 2381.8,2333.0 2410.4,2330.9 2439.0,2330.7 2467.6,2330.9 2496.2,2329.3 2524.8,2329.4 2553.4,2330.5 2582.0,2329.3 2610.6,2328.9 2639.3,2329.6 2667.8,2327.9 2696.4,2326.7 2725.0,2326.9 2753.6,2325.7 2782.2,2324.8 2810.8,2325.1 2839.4,2324.7 2868.1,2323.8 2896.8,2322.3 2925.4,2320.2 2954.0,2318.3 2982.6,2316.8 3011.3,2314.9 3039.9,2313.0 3068.6,2312.1 3097.3,2311.5 3125.9,2310.4 3154.6,2308.8 3183.2,2307.5 3211.9,2305.9 3240.5,2303.9 3269.1,2303.9 3297.6,2303.2 3326.2,2304.0 3354.8,2305.5 3383.3,2305.5 3411.9,2305.1 3440.5,2305.9 3469.0,2305.6 3497.6,2303.9 3526.2,2304.3 3554.7,2306.5 3583.3,2307.0 3611.9,2306.4 3640.4,2307.2 3669.0,2307.4 3697.6,2306.0 3726.2,2305.6 3754.7,2307.0 3783.3,2307.8 3811.9,2307.6 3840.4,2307.7 3869.1,2307.9 3897.7,2308.3 3926.4,2308.7 3955.0,2308.9 3983.7,2308.7 4012.4,2308.4 4041.0,2308.5 4069.7,2308.7 4098.3,2308.5 4127.0,2308.3 4155.6,2308.7 4184.3,2309.3 4212.9,2309.7 4241.6,2309.8 4270.2,2309.9 4298.9,2310.0"/>
<path d="M582.2,2333.1 610.6,2326.5 639.0,2319.9 667.2,2312.3 695.2,2304.1 723.5,2297.0 752.0,2290.7 780.3,2283.8 808.4,2276.0 836.8,2269.1 865.5,2263.7 894.1,2257.8 922.3,2250.3 950.4,2242.6 978.8,2236.1 1007.3,2229.5 1035.4,2221.8 1063.4,2213.8 1091.8,2206.8 1120.2,2200.4 1150.5,2191.3 1181.2,2183.7 1211.9,2176.1 1242.5,2168.3 1273.0,2160.0 1303.3,2150.8"/>
</g>
</g>
</svg>
<div class="tx">
<div class="l h" style="top:82.42px;letter-spacing:0.190px">Układ przestrzenno-funkcjonalny</div>
<div class="l" style="top:106.36px;letter-spacing:0.019px">Wnętrze budynku dzieli się na dwie strefy funkcjonalne:</div>
<div class="l" style="top:125.11px;letter-spacing:0.086px">ogólnodostępną strefę przestrzeni wystawowej,</div>
<div class="l" style="top:143.61px;letter-spacing:0.048px">demonstratorium, kawiarni, czytelni, i otwartych zbiorów</div>
<div class="l" style="top:162.11px;letter-spacing:0.015px">bibliotecznych, oraz zamkniętą, dostępną tylko dla pracowników</div>
<div class="l" style="top:180.86px;letter-spacing:-0.059px">strefę biur i archiwów.</div>
<div class="l" style="top:205.86px;letter-spacing:-0.209px">Pasaż wejściowy</div>
<div class="l" style="top:224.61px;letter-spacing:-0.019px">Pasaż stanowiący oś budynku wprowadza czytelny podział</div>
<div class="l" style="top:243.36px;letter-spacing:0.136px">funkcjonalny na strefę dostępną i niedostępną. Pełni</div>
<div class="l" style="top:262.11px;letter-spacing:0.041px">równicześnie funkcję ogólnodostępnej przestrzeni wystawowej.</div>
<div class="l" style="top:287.11px;letter-spacing:0.121px">Demonstratorium z wahadłem Foucalta</div>
<div class="l" style="top:305.86px;letter-spacing:0.055px">Pasaż łączy się ze strefą demonstatorium, którego głównym</div>
<div class="l" style="top:324.11px;letter-spacing:0.080px">elementem jest wahadło Foucaulta. Wahadło zlokalizowane</div>
<div class="l" style="top:342.61px;letter-spacing:-0.092px">jest u podnóża „wzgórza wiedzy”, Dzięki temu widoczne jest</div>
<div class="l" style="top:361.61px;letter-spacing:-0.059px">ze wszytskich poziomów Cognitarium poziomów.</div>
<div class="l" style="top:386.36px;letter-spacing:-0.271px">„Wzgórze wiedzy”- czytelnia</div>
<div class="l" style="top:405.11px;letter-spacing:0.072px">Centralnym i najbardziej charakterystycznym elementem części</div>
<div class="l" style="top:423.86px;letter-spacing:-0.106px">ogólnodostępnej jest ‘wzgórze wiedzy’, czyli czytelnia</div>
<div class="l" style="top:442.61px;letter-spacing:0.034px">zaprojektowana w postaci tarasów z miejscami do siedzenia</div>
<div class="l" style="top:460.86px;letter-spacing:-0.062px">i pracy. Element ten widoczny już od wejścia ma decydujący</div>
<div class="l" style="top:479.61px;letter-spacing:-0.021px">wpływ na charakter wnętrza budynku. Swoim topograficznym</div>
<div class="l" style="top:498.11px;letter-spacing:0.095px">ukształtowaniem nawiązuje do tarasowego układu zewnętrza.</div>
<div class="l" style="top:516.86px;letter-spacing:0.037px">Bazuje na tej samej koncepcji z zakresu architektury zachowań;</div>
<div class="l" style="top:535.36px;letter-spacing:-0.043px">oferuje możliwości wchodzenia, wspinania, siadania w dowolnym</div>
<div class="l" style="top:554.11px;letter-spacing:0.028px">miejscu, zachęcając do spontanicznego poszukiwania wiedzy.</div>
<div class="l" style="top:579.11px;letter-spacing:-0.139px">Galerie</div>
<div class="l" style="top:597.61px;letter-spacing:0.073px">Pozostała część przestrzeni została zaprojektowana jako układ</div>
<div class="l" style="top:616.36px;letter-spacing:-0.124px">poziomów, półpoziomów i kładek połączonych ze ‘wzgórzem’</div>
<div class="l" style="top:635.11px;letter-spacing:-0.025px">z rozmieszczonymi wokół funkcjami uzupełniającymi.</div>
</div>
</body>
</html>
